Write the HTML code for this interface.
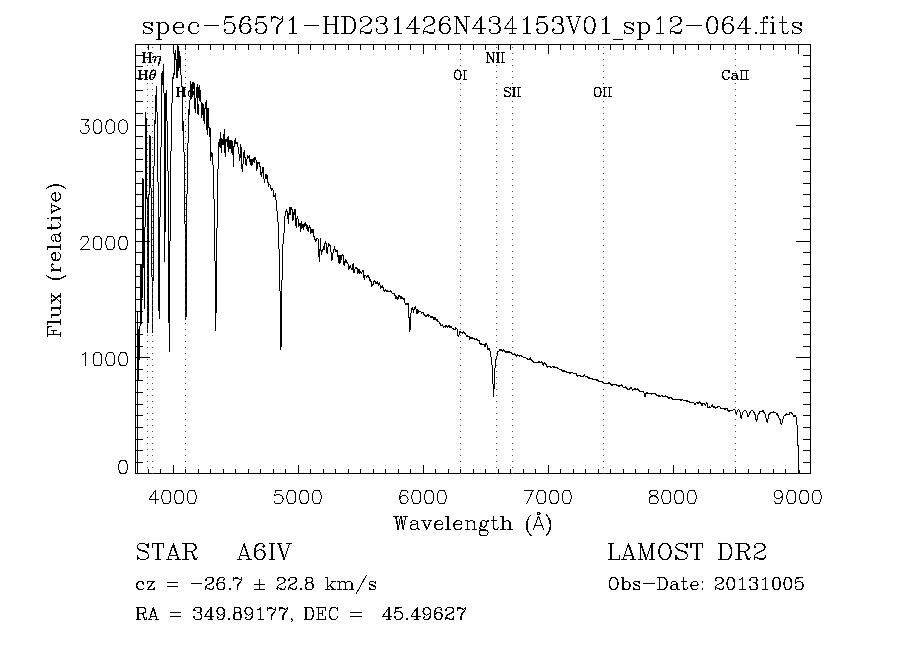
<!DOCTYPE html>
<html lang="en"><head><meta charset="utf-8"><title>spec-56571-HD231426N434153V01_sp12-064.fits</title>
<style>html,body{margin:0;padding:0;background:#fff;font-family:"Liberation Serif",serif}figure{margin:0;position:relative;width:900px;height:650px;overflow:hidden}svg{display:block}figcaption{position:absolute;left:0;top:0;width:1px;height:1px;overflow:hidden;clip:rect(0 0 0 0);clip-path:inset(50%);white-space:nowrap}</style></head>
<body>
<figure>
<svg width="900" height="650" viewBox="0 0 900 650" shape-rendering="crispEdges" fill="none" stroke-width="1" stroke-linecap="butt">
<rect width="900" height="650" fill="#fff" stroke="none"/>
<path id="curve" stroke="#000" d="M137.5 312V474M138.5 329V381M139.5 326V360M140.5 264V326M141.5 264V324M142.5 178V298M143.5 179V268M144.5 227V309M145.5 112V227M146.5 118V199M147.5 198V333M148.5 194V323M149.5 135V195M150.5 136V188M151.5 188V277M152.5 277V333M153.5 166V281M154.5 120V166M155.5 95V124M156.5 86V112M157.5 112V182M158.5 182V311M159.5 217V319M160.5 147V217M161.5 73V147M162.5 71V85M163.5 64V93M164.5 93V262M165.5 93V232M166.5 90V121M167.5 121V171M168.5 171V323M169.5 241V352M170.5 151V241M171.5 103V151M172.5 77V103M173.5 73V79M174.5 53V75M175.5 50V60M176.5 59V78M177.5 44V78M178.5 46V71M179.5 51V68M180.5 56V75M181.5 75V87M182.5 86V131M183.5 121V152M184.5 152V224M185.5 224V320M186.5 194V317M187.5 143V194M188.5 109V143M189.5 100V115M190.5 81V100M191.5 84V99M192.5 82V95M193.5 82V89M193.5 92V94M194.5 83V109M195.5 98V113M196.5 87V98M197.5 84V114M198.5 87V98M198.5 104V115M199.5 85V101M200.5 90V102M201.5 102V118M202.5 103V115M203.5 104V121M204.5 108V124M205.5 102V109M206.5 100V130M207.5 108V135M208.5 108V128M209.5 127V137M210.5 128V161M211.5 152V157M212.5 153V165M213.5 165V199M214.5 199V261M215.5 261V331M216.5 228V313M217.5 169V228M218.5 142V169M219.5 139V147M220.5 132V148M221.5 138V153M222.5 139V145M223.5 134V145M224.5 129V153M225.5 139V157M226.5 139V142M227.5 137V147M228.5 136V152M229.5 140V149M230.5 140V149M231.5 140V153M232.5 141V155M233.5 146V167M234.5 140V147M235.5 138V144M236.5 142V144M237.5 142V147M238.5 147V154M239.5 154V161M240.5 144V158M241.5 147V169M242.5 164V172M243.5 152V164M244.5 150V158M245.5 157V165M246.5 159V166M247.5 155V159M248.5 156V158M249.5 155V162M250.5 159V165M251.5 159V166M252.5 159V165M253.5 158V162M254.5 157V163M255.5 157V160M256.5 160V171M257.5 162V169M258.5 162V164M259.5 162V167M260.5 166V175M261.5 172V177M262.5 167V173M263.5 167V179M264.5 179V183M265.5 174V179M266.5 174V179M267.5 175V183M268.5 182V187M269.5 184V185M270.5 185V189M271.5 188V191M272.5 188V190M273.5 190V197M274.5 195V197M275.5 193V200M276.5 200V211M277.5 211V222M278.5 222V249M279.5 249V291M280.5 291V350M281.5 280V347M282.5 244V280M283.5 233V244M284.5 216V233M285.5 211V216M286.5 209V212M287.5 211V219M288.5 213V224M289.5 207V215M290.5 207V215M291.5 207V210M292.5 209V221M293.5 212V220M294.5 209V215M295.5 209V226M296.5 218V228M297.5 216V219M298.5 219V227M299.5 223V226M300.5 223V232M301.5 221V229M302.5 224V228M303.5 224V230M304.5 223V227M305.5 222V226M306.5 224V229M307.5 225V231M308.5 227V232M309.5 225V228M310.5 227V234M311.5 229V233M312.5 229V233M313.5 229V237M314.5 236V240M315.5 239V242M316.5 238V241M317.5 238V239M318.5 239V257M319.5 249V262M320.5 238V251M321.5 250V255M322.5 249V252M323.5 246V250M324.5 243V250M325.5 241V244M326.5 243V253M327.5 247V254M328.5 243V247M329.5 244V246M330.5 245V252M331.5 252V261M332.5 253V260M333.5 249V253M334.5 246V250M335.5 249V252M336.5 250V252M337.5 250V257M338.5 255V263M339.5 255V264M340.5 255V263M341.5 255V260M342.5 254V256M343.5 255V265M344.5 261V266M345.5 259V263M346.5 260V263M347.5 262V264M348.5 264V270M349.5 266V269M350.5 265V268M351.5 268V270M352.5 264V270M353.5 263V273M354.5 269V273M355.5 267V269M356.5 267V269M357.5 268V274M358.5 269V273M359.5 269V274M360.5 271V273M361.5 272V274M362.5 270V272M363.5 270V278M364.5 275V280M365.5 275V276M366.5 276V278M367.5 275V277M368.5 275V278M369.5 277V281M370.5 279V282M371.5 281V287M372.5 284V286M373.5 281V285M374.5 280V282M375.5 281V284M376.5 282V284M377.5 281V284M378.5 283V286M379.5 282V285M380.5 285V289M381.5 286V288M382.5 285V288M383.5 287V291M384.5 290V292M385.5 289V291M386.5 290V292M387.5 290V292M388.5 291V292M389.5 291V292M390.5 290V292M391.5 291V293M392.5 293V294M393.5 293V294M394.5 293V296M395.5 295V299M396.5 296V299M397.5 297V300M398.5 295V299M399.5 295V297M400.5 296V299M401.5 296V299M402.5 297V299M403.5 298V300M404.5 298V303M405.5 303V305M406.5 303V305M407.5 303V305M408.5 303V318M409.5 317V332M410.5 313V330M411.5 308V313M412.5 307V310M413.5 309V313M414.5 307V310M415.5 306V309M416.5 309V314M417.5 309V314M418.5 310V313M419.5 311V312M420.5 311V312M421.5 312V314M422.5 312V313M423.5 312V315M424.5 314V316M425.5 315V317M426.5 315V317M427.5 314V316M428.5 314V317M429.5 315V316M430.5 316V318M431.5 316V318M432.5 316V318M433.5 317V320M434.5 317V320M435.5 317V320M436.5 319V321M437.5 319V322M438.5 321V322M439.5 322V324M440.5 323V326M441.5 325V326M442.5 324V326M443.5 326V328M444.5 326V327M445.5 325V328M446.5 325V327M447.5 326V328M448.5 325V327M449.5 325V328M450.5 326V328M451.5 326V328M452.5 328V329M453.5 328V330M454.5 329V330M455.5 327V330M456.5 328V329M457.5 329V336M458.5 335V337M459.5 331V335M460.5 331V333M461.5 332V333M462.5 332V334M463.5 331V333M464.5 332V334M465.5 333V335M466.5 335V337M467.5 335V337M468.5 336V337M469.5 336V340M470.5 337V339M471.5 337V339M472.5 337V339M473.5 338V339M474.5 338V340M475.5 339V340M476.5 338V340M477.5 339V341M478.5 340V341M479.5 340V344M480.5 343V345M481.5 343V345M482.5 344V345M483.5 344V345M484.5 344V347M485.5 343V347M486.5 343V345M487.5 345V350M488.5 348V350M489.5 348V351M490.5 351V357M491.5 357V365M492.5 365V384M493.5 384V397M494.5 368V389M495.5 359V368M496.5 356V359M497.5 351V356M498.5 351V352M499.5 349V351M500.5 349V351M501.5 349V351M502.5 350V352M503.5 349V351M504.5 350V352M505.5 351V353M506.5 351V353M507.5 351V353M508.5 351V353M509.5 351V353M510.5 352V353M511.5 352V354M512.5 353V355M513.5 354V355M514.5 353V355M515.5 354V356M516.5 355V357M517.5 354V356M518.5 355V356M519.5 355V357M520.5 355V356M521.5 355V357M522.5 356V357M523.5 357V358M524.5 357V358M525.5 357V358M526.5 358V359M527.5 358V360M528.5 359V360M529.5 358V360M530.5 357V360M531.5 359V361M532.5 360V362M533.5 361V363M534.5 362V363M535.5 362V363M536.5 362V363M537.5 362V363M538.5 361V363M539.5 361V363M540.5 362V363M541.5 361V363M542.5 362V365M543.5 363V366M544.5 362V364M545.5 363V365M546.5 364V367M547.5 366V368M548.5 366V367M549.5 366V367M550.5 366V368M551.5 367V368M552.5 366V367M553.5 366V368M554.5 366V368M555.5 367V368M556.5 367V368M557.5 367V369M558.5 368V369M559.5 369V370M560.5 369V370M561.5 369V371M562.5 370V372M563.5 370V372M564.5 370V372M565.5 371V372M566.5 371V373M567.5 372V373M568.5 372V373M569.5 372V374M570.5 372V374M571.5 372V373M572.5 372V373M573.5 373V374M574.5 373V374M575.5 373V374M576.5 373V376M577.5 375V377M578.5 375V376M579.5 375V376M580.5 375V377M581.5 376V377M582.5 376V377M583.5 375V377M584.5 374V376M585.5 376V377M586.5 376V377M587.5 376V378M588.5 377V379M589.5 377V379M590.5 378V379M591.5 378V379M592.5 378V380M593.5 379V380M594.5 379V380M595.5 379V380M596.5 379V381M597.5 379V381M598.5 380V382M599.5 381V382M600.5 381V382M601.5 381V382M602.5 381V383M603.5 382V384M604.5 383V384M605.5 383V384M606.5 383V384M607.5 383V384M608.5 382V384M609.5 382V384M610.5 383V385M611.5 384V386M612.5 384V386M613.5 384V385M614.5 384V385M615.5 384V385M616.5 384V386M617.5 385V386M618.5 385V387M619.5 385V387M620.5 385V386M621.5 384V386M622.5 385V387M623.5 387V388M624.5 387V388M625.5 386V388M626.5 387V389M627.5 388V390M628.5 389V390M629.5 388V390M630.5 387V389M631.5 387V389M632.5 389V391M633.5 389V390M634.5 388V390M635.5 388V390M636.5 389V390M637.5 388V390M638.5 389V391M639.5 390V392M640.5 391V392M641.5 391V392M642.5 391V392M643.5 391V393M644.5 393V397M645.5 393V397M646.5 392V394M647.5 392V394M648.5 393V394M649.5 393V394M650.5 393V394M651.5 393V395M652.5 393V394M653.5 393V394M654.5 393V394M655.5 393V395M656.5 394V396M657.5 395V396M658.5 395V397M659.5 395V397M660.5 396V397M661.5 395V396M662.5 395V397M663.5 396V397M664.5 396V397M665.5 395V397M666.5 396V397M667.5 396V398M668.5 397V399M669.5 397V399M670.5 397V398M671.5 397V399M672.5 398V400M673.5 399V400M674.5 399V400M675.5 399V400M676.5 399V400M677.5 399V400M678.5 399V400M679.5 399V400M680.5 399V401M681.5 399V401M682.5 399V400M683.5 400V401M684.5 400V401M685.5 400V401M686.5 400V402M687.5 400V402M688.5 401V402M689.5 401V403M690.5 402V403M691.5 402V403M692.5 402V403M693.5 402V403M694.5 403V405M695.5 403V405M696.5 402V403M697.5 402V404M698.5 402V404M699.5 401V403M700.5 402V404M701.5 403V406M702.5 403V406M703.5 403V404M704.5 403V405M705.5 404V406M706.5 402V404M707.5 403V408M708.5 407V408M709.5 406V408M710.5 407V408M711.5 405V407M712.5 404V407M713.5 406V408M714.5 406V408M715.5 407V409M716.5 407V408M717.5 406V408M718.5 406V407M719.5 406V407M720.5 407V409M721.5 408V409M722.5 408V409M723.5 408V409M724.5 408V410M725.5 408V410M726.5 408V409M727.5 408V411M728.5 410V412M729.5 410V412M730.5 410V411M731.5 410V411M732.5 410V411M733.5 409V410M734.5 409V410M735.5 410V414M736.5 412V415M737.5 410V412M738.5 409V410M739.5 410V412M740.5 412V418M741.5 415V419M742.5 412V415M743.5 411V412M744.5 410V411M745.5 410V411M746.5 411V413M747.5 413V417M748.5 415V417M749.5 412V415M750.5 411V413M751.5 410V411M752.5 410V411M753.5 411V413M754.5 412V415M755.5 414V420M756.5 419V422M757.5 415V420M758.5 413V415M759.5 411V414M760.5 411V412M761.5 411V412M762.5 410V412M763.5 410V413M764.5 412V414M765.5 414V418M766.5 418V422M767.5 419V423M768.5 414V419M769.5 413V415M770.5 412V414M771.5 412V413M772.5 412V413M773.5 411V413M774.5 412V413M775.5 412V413M776.5 413V415M777.5 413V416M778.5 415V418M779.5 418V420M780.5 419V424M781.5 423V425M782.5 419V423M783.5 416V419M784.5 415V416M785.5 414V416M786.5 413V415M787.5 414V415M788.5 414V415M789.5 412V415M790.5 412V413M791.5 412V414M792.5 413V415M793.5 415V417M794.5 415V417M795.5 415V417M796.5 417V425M797.5 425V446M798.5 445V474M799.5 470V474"/>
<path id="frame" stroke="#000" d="M135.5 44.5H810.5V473.5H135.5Z"/>
<path id="ticks" stroke="#000" d="M135.5 474v-5M135.5 44v6M148.5 474v-5M148.5 44v6M160.5 474v-5M160.5 44v6M173.5 474v-9M173.5 44v10M185.5 474v-5M185.5 44v6M198.5 474v-5M198.5 44v6M210.5 474v-5M210.5 44v6M223.5 474v-5M223.5 44v6M235.5 474v-5M235.5 44v6M248.5 474v-5M248.5 44v6M260.5 474v-5M260.5 44v6M273.5 474v-5M273.5 44v6M285.5 474v-5M285.5 44v6M298.5 474v-9M298.5 44v10M310.5 474v-5M310.5 44v6M323.5 474v-5M323.5 44v6M335.5 474v-5M335.5 44v6M348.5 474v-5M348.5 44v6M360.5 474v-5M360.5 44v6M373.5 474v-5M373.5 44v6M385.5 474v-5M385.5 44v6M398.5 474v-5M398.5 44v6M410.5 474v-5M410.5 44v6M423.5 474v-9M423.5 44v10M435.5 474v-5M435.5 44v6M448.5 474v-5M448.5 44v6M460.5 474v-5M460.5 44v6M473.5 474v-5M473.5 44v6M485.5 474v-5M485.5 44v6M498.5 474v-5M498.5 44v6M510.5 474v-5M510.5 44v6M523.5 474v-5M523.5 44v6M535.5 474v-5M535.5 44v6M548.5 474v-9M548.5 44v10M560.5 474v-5M560.5 44v6M573.5 474v-5M573.5 44v6M585.5 474v-5M585.5 44v6M598.5 474v-5M598.5 44v6M610.5 474v-5M610.5 44v6M623.5 474v-5M623.5 44v6M635.5 474v-5M635.5 44v6M648.5 474v-5M648.5 44v6M660.5 474v-5M660.5 44v6M673.5 474v-9M673.5 44v10M685.5 474v-5M685.5 44v6M698.5 474v-5M698.5 44v6M710.5 474v-5M710.5 44v6M723.5 474v-5M723.5 44v6M735.5 474v-5M735.5 44v6M748.5 474v-5M748.5 44v6M760.5 474v-5M760.5 44v6M773.5 474v-5M773.5 44v6M785.5 474v-5M785.5 44v6M798.5 474v-9M798.5 44v10M135 473.5h15M811 473.5h-15M135 462.5h8M811 462.5h-8M135 450.5h8M811 450.5h-8M135 439.5h8M811 439.5h-8M135 427.5h8M811 427.5h-8M135 415.5h8M811 415.5h-8M135 404.5h8M811 404.5h-8M135 392.5h8M811 392.5h-8M135 380.5h8M811 380.5h-8M135 369.5h8M811 369.5h-8M135 357.5h15M811 357.5h-15M135 346.5h8M811 346.5h-8M135 334.5h8M811 334.5h-8M135 322.5h8M811 322.5h-8M135 311.5h8M811 311.5h-8M135 299.5h8M811 299.5h-8M135 287.5h8M811 287.5h-8M135 276.5h8M811 276.5h-8M135 264.5h8M811 264.5h-8M135 252.5h8M811 252.5h-8M135 241.5h15M811 241.5h-15M135 229.5h8M811 229.5h-8M135 218.5h8M811 218.5h-8M135 206.5h8M811 206.5h-8M135 194.5h8M811 194.5h-8M135 183.5h8M811 183.5h-8M135 171.5h8M811 171.5h-8M135 159.5h8M811 159.5h-8M135 148.5h8M811 148.5h-8M135 136.5h8M811 136.5h-8M135 125.5h15M811 125.5h-15M135 113.5h8M811 113.5h-8M135 101.5h8M811 101.5h-8M135 90.5h8M811 90.5h-8M135 78.5h8M811 78.5h-8M135 66.5h8M811 66.5h-8M135 55.5h8M811 55.5h-8"/>
<path id="lines" stroke="#b22222" d="M147 47.5h1M147 53.5h1M147 59.5h1M147 65.5h1M147 71.5h1M147 77.5h1M147 83.5h1M147 89.5h1M147 95.5h1M147 101.5h1M147 107.5h1M147 113.5h1M147 119.5h1M147 125.5h1M147 131.5h1M147 137.5h1M147 143.5h1M147 149.5h1M147 155.5h1M147 161.5h1M147 167.5h1M147 173.5h1M147 179.5h1M147 185.5h1M147 191.5h1M147 197.5h1M147 203.5h1M147 209.5h1M147 215.5h1M147 221.5h1M147 227.5h1M147 233.5h1M147 239.5h1M147 245.5h1M147 251.5h1M147 257.5h1M147 263.5h1M147 269.5h1M147 275.5h1M147 281.5h1M147 287.5h1M147 293.5h1M147 299.5h1M147 305.5h1M147 311.5h1M147 317.5h1M147 323.5h1M147 329.5h1M147 335.5h1M147 341.5h1M147 347.5h1M147 353.5h1M147 359.5h1M147 365.5h1M147 371.5h1M147 377.5h1M147 383.5h1M147 389.5h1M147 395.5h1M147 401.5h1M147 407.5h1M147 413.5h1M147 419.5h1M147 425.5h1M147 431.5h1M147 437.5h1M147 443.5h1M147 449.5h1M147 455.5h1M147 461.5h1M147 467.5h1M147 473.5h1M152 47.5h1M152 53.5h1M152 59.5h1M152 65.5h1M152 71.5h1M152 77.5h1M152 83.5h1M152 89.5h1M152 95.5h1M152 101.5h1M152 107.5h1M152 113.5h1M152 119.5h1M152 125.5h1M152 131.5h1M152 137.5h1M152 143.5h1M152 149.5h1M152 155.5h1M152 161.5h1M152 167.5h1M152 173.5h1M152 179.5h1M152 185.5h1M152 191.5h1M152 197.5h1M152 203.5h1M152 209.5h1M152 215.5h1M152 221.5h1M152 227.5h1M152 233.5h1M152 239.5h1M152 245.5h1M152 251.5h1M152 257.5h1M152 263.5h1M152 269.5h1M152 275.5h1M152 281.5h1M152 287.5h1M152 293.5h1M152 299.5h1M152 305.5h1M152 311.5h1M152 317.5h1M152 323.5h1M152 329.5h1M152 335.5h1M152 341.5h1M152 347.5h1M152 353.5h1M152 359.5h1M152 365.5h1M152 371.5h1M152 377.5h1M152 383.5h1M152 389.5h1M152 395.5h1M152 401.5h1M152 407.5h1M152 413.5h1M152 419.5h1M152 425.5h1M152 431.5h1M152 437.5h1M152 443.5h1M152 449.5h1M152 455.5h1M152 461.5h1M152 467.5h1M152 473.5h1M185 47.5h1M185 53.5h1M185 59.5h1M185 65.5h1M185 71.5h1M185 77.5h1M185 83.5h1M185 89.5h1M185 95.5h1M185 101.5h1M185 107.5h1M185 113.5h1M185 119.5h1M185 125.5h1M185 131.5h1M185 137.5h1M185 143.5h1M185 149.5h1M185 155.5h1M185 161.5h1M185 167.5h1M185 173.5h1M185 179.5h1M185 185.5h1M185 191.5h1M185 197.5h1M185 203.5h1M185 209.5h1M185 215.5h1M185 221.5h1M185 227.5h1M185 233.5h1M185 239.5h1M185 245.5h1M185 251.5h1M185 257.5h1M185 263.5h1M185 269.5h1M185 275.5h1M185 281.5h1M185 287.5h1M185 293.5h1M185 299.5h1M185 305.5h1M185 311.5h1M185 317.5h1M185 323.5h1M185 329.5h1M185 335.5h1M185 341.5h1M185 347.5h1M185 353.5h1M185 359.5h1M185 365.5h1M185 371.5h1M185 377.5h1M185 383.5h1M185 389.5h1M185 395.5h1M185 401.5h1M185 407.5h1M185 413.5h1M185 419.5h1M185 425.5h1M185 431.5h1M185 437.5h1M185 443.5h1M185 449.5h1M185 455.5h1M185 461.5h1M185 467.5h1M185 473.5h1M460 47.5h1M460 53.5h1M460 59.5h1M460 65.5h1M460 71.5h1M460 77.5h1M460 83.5h1M460 89.5h1M460 95.5h1M460 101.5h1M460 107.5h1M460 113.5h1M460 119.5h1M460 125.5h1M460 131.5h1M460 137.5h1M460 143.5h1M460 149.5h1M460 155.5h1M460 161.5h1M460 167.5h1M460 173.5h1M460 179.5h1M460 185.5h1M460 191.5h1M460 197.5h1M460 203.5h1M460 209.5h1M460 215.5h1M460 221.5h1M460 227.5h1M460 233.5h1M460 239.5h1M460 245.5h1M460 251.5h1M460 257.5h1M460 263.5h1M460 269.5h1M460 275.5h1M460 281.5h1M460 287.5h1M460 293.5h1M460 299.5h1M460 305.5h1M460 311.5h1M460 317.5h1M460 323.5h1M460 329.5h1M460 335.5h1M460 341.5h1M460 347.5h1M460 353.5h1M460 359.5h1M460 365.5h1M460 371.5h1M460 377.5h1M460 383.5h1M460 389.5h1M460 395.5h1M460 401.5h1M460 407.5h1M460 413.5h1M460 419.5h1M460 425.5h1M460 431.5h1M460 437.5h1M460 443.5h1M460 449.5h1M460 455.5h1M460 461.5h1M460 467.5h1M460 473.5h1M496 47.5h1M496 53.5h1M496 59.5h1M496 65.5h1M496 71.5h1M496 77.5h1M496 83.5h1M496 89.5h1M496 95.5h1M496 101.5h1M496 107.5h1M496 113.5h1M496 119.5h1M496 125.5h1M496 131.5h1M496 137.5h1M496 143.5h1M496 149.5h1M496 155.5h1M496 161.5h1M496 167.5h1M496 173.5h1M496 179.5h1M496 185.5h1M496 191.5h1M496 197.5h1M496 203.5h1M496 209.5h1M496 215.5h1M496 221.5h1M496 227.5h1M496 233.5h1M496 239.5h1M496 245.5h1M496 251.5h1M496 257.5h1M496 263.5h1M496 269.5h1M496 275.5h1M496 281.5h1M496 287.5h1M496 293.5h1M496 299.5h1M496 305.5h1M496 311.5h1M496 317.5h1M496 323.5h1M496 329.5h1M496 335.5h1M496 341.5h1M496 347.5h1M496 353.5h1M496 359.5h1M496 365.5h1M496 371.5h1M496 377.5h1M496 383.5h1M496 389.5h1M496 395.5h1M496 401.5h1M496 407.5h1M496 413.5h1M496 419.5h1M496 425.5h1M496 431.5h1M496 437.5h1M496 443.5h1M496 449.5h1M496 455.5h1M496 461.5h1M496 467.5h1M496 473.5h1M512 47.5h1M512 53.5h1M512 59.5h1M512 65.5h1M512 71.5h1M512 77.5h1M512 83.5h1M512 89.5h1M512 95.5h1M512 101.5h1M512 107.5h1M512 113.5h1M512 119.5h1M512 125.5h1M512 131.5h1M512 137.5h1M512 143.5h1M512 149.5h1M512 155.5h1M512 161.5h1M512 167.5h1M512 173.5h1M512 179.5h1M512 185.5h1M512 191.5h1M512 197.5h1M512 203.5h1M512 209.5h1M512 215.5h1M512 221.5h1M512 227.5h1M512 233.5h1M512 239.5h1M512 245.5h1M512 251.5h1M512 257.5h1M512 263.5h1M512 269.5h1M512 275.5h1M512 281.5h1M512 287.5h1M512 293.5h1M512 299.5h1M512 305.5h1M512 311.5h1M512 317.5h1M512 323.5h1M512 329.5h1M512 335.5h1M512 341.5h1M512 347.5h1M512 353.5h1M512 359.5h1M512 365.5h1M512 371.5h1M512 377.5h1M512 383.5h1M512 389.5h1M512 395.5h1M512 401.5h1M512 407.5h1M512 413.5h1M512 419.5h1M512 425.5h1M512 431.5h1M512 437.5h1M512 443.5h1M512 449.5h1M512 455.5h1M512 461.5h1M512 467.5h1M512 473.5h1M603 47.5h1M603 53.5h1M603 59.5h1M603 65.5h1M603 71.5h1M603 77.5h1M603 83.5h1M603 89.5h1M603 95.5h1M603 101.5h1M603 107.5h1M603 113.5h1M603 119.5h1M603 125.5h1M603 131.5h1M603 137.5h1M603 143.5h1M603 149.5h1M603 155.5h1M603 161.5h1M603 167.5h1M603 173.5h1M603 179.5h1M603 185.5h1M603 191.5h1M603 197.5h1M603 203.5h1M603 209.5h1M603 215.5h1M603 221.5h1M603 227.5h1M603 233.5h1M603 239.5h1M603 245.5h1M603 251.5h1M603 257.5h1M603 263.5h1M603 269.5h1M603 275.5h1M603 281.5h1M603 287.5h1M603 293.5h1M603 299.5h1M603 305.5h1M603 311.5h1M603 317.5h1M603 323.5h1M603 329.5h1M603 335.5h1M603 341.5h1M603 347.5h1M603 353.5h1M603 359.5h1M603 365.5h1M603 371.5h1M603 377.5h1M603 383.5h1M603 389.5h1M603 395.5h1M603 401.5h1M603 407.5h1M603 413.5h1M603 419.5h1M603 425.5h1M603 431.5h1M603 437.5h1M603 443.5h1M603 449.5h1M603 455.5h1M603 461.5h1M603 467.5h1M603 473.5h1M735 47.5h1M735 53.5h1M735 59.5h1M735 65.5h1M735 71.5h1M735 77.5h1M735 83.5h1M735 89.5h1M735 95.5h1M735 101.5h1M735 107.5h1M735 113.5h1M735 119.5h1M735 125.5h1M735 131.5h1M735 137.5h1M735 143.5h1M735 149.5h1M735 155.5h1M735 161.5h1M735 167.5h1M735 173.5h1M735 179.5h1M735 185.5h1M735 191.5h1M735 197.5h1M735 203.5h1M735 209.5h1M735 215.5h1M735 221.5h1M735 227.5h1M735 233.5h1M735 239.5h1M735 245.5h1M735 251.5h1M735 257.5h1M735 263.5h1M735 269.5h1M735 275.5h1M735 281.5h1M735 287.5h1M735 293.5h1M735 299.5h1M735 305.5h1M735 311.5h1M735 317.5h1M735 323.5h1M735 329.5h1M735 335.5h1M735 341.5h1M735 347.5h1M735 353.5h1M735 359.5h1M735 365.5h1M735 371.5h1M735 377.5h1M735 383.5h1M735 389.5h1M735 395.5h1M735 401.5h1M735 407.5h1M735 413.5h1M735 419.5h1M735 425.5h1M735 431.5h1M735 437.5h1M735 443.5h1M735 449.5h1M735 455.5h1M735 461.5h1M735 467.5h1M735 473.5h1"/>
<g id="labels" stroke="#000" stroke-linecap="square" stroke-linejoin="round">
<g role="img" aria-label="4000"><title>4000</title><path d="M155.49 490.15L149.11 499.25L158.67 499.25M155.49 490.15L155.49 503.80M165.69 490.15L163.77 490.80L162.50 492.75L161.86 496.00L161.86 497.95L162.50 501.20L163.77 503.15L165.69 503.80L166.96 503.80L168.88 503.15L170.15 501.20L170.79 497.95L170.79 496.00L170.15 492.75L168.88 490.80L166.96 490.15L165.69 490.15M178.44 490.15L176.52 490.80L175.25 492.75L174.61 496.00L174.61 497.95L175.25 501.20L176.52 503.15L178.44 503.80L179.71 503.80L181.62 503.15L182.90 501.20L183.54 497.95L183.54 496.00L182.90 492.75L181.62 490.80L179.71 490.15L178.44 490.15M191.19 490.15L189.27 490.80L188.00 492.75L187.36 496.00L187.36 497.95L188.00 501.20L189.27 503.15L191.19 503.80L192.46 503.80L194.38 503.15L195.65 501.20L196.29 497.95L196.29 496.00L195.65 492.75L194.38 490.80L192.46 490.15L191.19 490.15"/></g>
<g role="img" aria-label="5000"><title>5000</title><path d="M281.76 490.15L275.39 490.15L274.75 496.00L275.39 495.35L277.30 494.70L279.21 494.70L281.12 495.35L282.40 496.65L283.04 498.60L283.04 499.90L282.40 501.85L281.12 503.15L279.21 503.80L277.30 503.80L275.39 503.15L274.75 502.50L274.11 501.20M290.69 490.15L288.77 490.80L287.50 492.75L286.86 496.00L286.86 497.95L287.50 501.20L288.77 503.15L290.69 503.80L291.96 503.80L293.88 503.15L295.15 501.20L295.79 497.95L295.79 496.00L295.15 492.75L293.88 490.80L291.96 490.15L290.69 490.15M303.44 490.15L301.52 490.80L300.25 492.75L299.61 496.00L299.61 497.95L300.25 501.20L301.52 503.15L303.44 503.80L304.71 503.80L306.62 503.15L307.90 501.20L308.54 497.95L308.54 496.00L307.90 492.75L306.62 490.80L304.71 490.15L303.44 490.15M316.19 490.15L314.27 490.80L313.00 492.75L312.36 496.00L312.36 497.95L313.00 501.20L314.27 503.15L316.19 503.80L317.46 503.80L319.38 503.15L320.65 501.20L321.29 497.95L321.29 496.00L320.65 492.75L319.38 490.80L317.46 490.15L316.19 490.15"/></g>
<g role="img" aria-label="6000"><title>6000</title><path d="M407.40 492.10L406.76 490.80L404.85 490.15L403.57 490.15L401.66 490.80L400.39 492.75L399.75 496.00L399.75 499.25L400.39 501.85L401.66 503.15L403.57 503.80L404.21 503.80L406.12 503.15L407.40 501.85L408.04 499.90L408.04 499.25L407.40 497.30L406.12 496.00L404.21 495.35L403.57 495.35L401.66 496.00L400.39 497.30L399.75 499.25M415.69 490.15L413.77 490.80L412.50 492.75L411.86 496.00L411.86 497.95L412.50 501.20L413.77 503.15L415.69 503.80L416.96 503.80L418.88 503.15L420.15 501.20L420.79 497.95L420.79 496.00L420.15 492.75L418.88 490.80L416.96 490.15L415.69 490.15M428.44 490.15L426.52 490.80L425.25 492.75L424.61 496.00L424.61 497.95L425.25 501.20L426.52 503.15L428.44 503.80L429.71 503.80L431.62 503.15L432.90 501.20L433.54 497.95L433.54 496.00L432.90 492.75L431.62 490.80L429.71 490.15L428.44 490.15M441.19 490.15L439.27 490.80L438.00 492.75L437.36 496.00L437.36 497.95L438.00 501.20L439.27 503.15L441.19 503.80L442.46 503.80L444.38 503.15L445.65 501.20L446.29 497.95L446.29 496.00L445.65 492.75L444.38 490.80L442.46 490.15L441.19 490.15"/></g>
<g role="img" aria-label="7000"><title>7000</title><path d="M533.04 490.15L526.66 503.80M524.11 490.15L533.04 490.15M540.69 490.15L538.78 490.80L537.50 492.75L536.86 496.00L536.86 497.95L537.50 501.20L538.78 503.15L540.69 503.80L541.96 503.80L543.88 503.15L545.15 501.20L545.79 497.95L545.79 496.00L545.15 492.75L543.88 490.80L541.96 490.15L540.69 490.15M553.44 490.15L551.53 490.80L550.25 492.75L549.61 496.00L549.61 497.95L550.25 501.20L551.53 503.15L553.44 503.80L554.71 503.80L556.62 503.15L557.90 501.20L558.54 497.95L558.54 496.00L557.90 492.75L556.62 490.80L554.71 490.15L553.44 490.15M566.19 490.15L564.28 490.80L563.00 492.75L562.36 496.00L562.36 497.95L563.00 501.20L564.28 503.15L566.19 503.80L567.46 503.80L569.38 503.15L570.65 501.20L571.29 497.95L571.29 496.00L570.65 492.75L569.38 490.80L567.46 490.15L566.19 490.15"/></g>
<g role="img" aria-label="8000"><title>8000</title><path d="M652.30 490.15L650.39 490.80L649.75 492.10L649.75 493.40L650.39 494.70L651.66 495.35L654.21 496.00L656.12 496.65L657.40 497.95L658.04 499.25L658.04 501.20L657.40 502.50L656.76 503.15L654.85 503.80L652.30 503.80L650.39 503.15L649.75 502.50L649.11 501.20L649.11 499.25L649.75 497.95L651.03 496.65L652.94 496.00L655.49 495.35L656.76 494.70L657.40 493.40L657.40 492.10L656.76 490.80L654.85 490.15L652.30 490.15M665.69 490.15L663.78 490.80L662.50 492.75L661.86 496.00L661.86 497.95L662.50 501.20L663.78 503.15L665.69 503.80L666.96 503.80L668.88 503.15L670.15 501.20L670.79 497.95L670.79 496.00L670.15 492.75L668.88 490.80L666.96 490.15L665.69 490.15M678.44 490.15L676.53 490.80L675.25 492.75L674.61 496.00L674.61 497.95L675.25 501.20L676.53 503.15L678.44 503.80L679.71 503.80L681.62 503.15L682.90 501.20L683.54 497.95L683.54 496.00L682.90 492.75L681.62 490.80L679.71 490.15L678.44 490.15M691.19 490.15L689.28 490.80L688.00 492.75L687.36 496.00L687.36 497.95L688.00 501.20L689.28 503.15L691.19 503.80L692.46 503.80L694.38 503.15L695.65 501.20L696.29 497.95L696.29 496.00L695.65 492.75L694.38 490.80L692.46 490.15L691.19 490.15"/></g>
<g role="img" aria-label="9000"><title>9000</title><path d="M782.40 494.70L781.76 496.65L780.49 497.95L778.58 498.60L777.94 498.60L776.03 497.95L774.75 496.65L774.11 494.70L774.11 494.05L774.75 492.10L776.03 490.80L777.94 490.15L778.58 490.15L780.49 490.80L781.76 492.10L782.40 494.70L782.40 497.95L781.76 501.20L780.49 503.15L778.58 503.80L777.30 503.80L775.39 503.15L774.75 501.85M790.69 490.15L788.78 490.80L787.50 492.75L786.86 496.00L786.86 497.95L787.50 501.20L788.78 503.15L790.69 503.80L791.96 503.80L793.88 503.15L795.15 501.20L795.79 497.95L795.79 496.00L795.15 492.75L793.88 490.80L791.96 490.15L790.69 490.15M803.44 490.15L801.53 490.80L800.25 492.75L799.61 496.00L799.61 497.95L800.25 501.20L801.53 503.15L803.44 503.80L804.71 503.80L806.62 503.15L807.90 501.20L808.54 497.95L808.54 496.00L807.90 492.75L806.62 490.80L804.71 490.15L803.44 490.15M816.19 490.15L814.28 490.80L813.00 492.75L812.36 496.00L812.36 497.95L813.00 501.20L814.28 503.15L816.19 503.80L817.46 503.80L819.38 503.15L820.65 501.20L821.29 497.95L821.29 496.00L820.65 492.75L819.38 490.80L817.46 490.15L816.19 490.15"/></g>
<g role="img" aria-label="0"><title>0</title><path d="M122.39 460.25L120.48 460.90L119.20 462.85L118.56 466.10L118.56 468.05L119.20 471.30L120.48 473.25L122.39 473.90L123.66 473.90L125.58 473.25L126.85 471.30L127.49 468.05L127.49 466.10L126.85 462.85L125.58 460.90L123.66 460.25L122.39 460.25"/></g>
<g role="img" aria-label="1000"><title>1000</title><path d="M82.23 354.93L83.50 354.28L85.41 352.33L85.41 365.98M96.89 352.33L94.98 352.98L93.70 354.93L93.06 358.18L93.06 360.13L93.70 363.38L94.98 365.33L96.89 365.98L98.16 365.98L100.08 365.33L101.35 363.38L101.99 360.13L101.99 358.18L101.35 354.93L100.08 352.98L98.16 352.33L96.89 352.33M109.64 352.33L107.73 352.98L106.45 354.93L105.81 358.18L105.81 360.13L106.45 363.38L107.73 365.33L109.64 365.98L110.91 365.98L112.83 365.33L114.10 363.38L114.74 360.13L114.74 358.18L114.10 354.93L112.83 352.98L110.91 352.33L109.64 352.33M122.39 352.33L120.47 352.98L119.20 354.93L118.56 358.18L118.56 360.13L119.20 363.38L120.47 365.33L122.39 365.98L123.66 365.98L125.58 365.33L126.85 363.38L127.49 360.13L127.49 358.18L126.85 354.93L125.58 352.98L123.66 352.33L122.39 352.33"/></g>
<g role="img" aria-label="2000"><title>2000</title><path d="M80.95 239.52L80.95 238.87L81.59 237.57L82.23 236.92L83.50 236.27L86.05 236.27L87.33 236.92L87.96 237.57L88.60 238.87L88.60 240.17L87.96 241.47L86.69 243.42L80.31 249.92L89.24 249.92M96.89 236.27L94.98 236.92L93.70 238.87L93.06 242.12L93.06 244.07L93.70 247.32L94.98 249.27L96.89 249.92L98.16 249.92L100.08 249.27L101.35 247.32L101.99 244.07L101.99 242.12L101.35 238.87L100.08 236.92L98.16 236.27L96.89 236.27M109.64 236.27L107.73 236.92L106.45 238.87L105.81 242.12L105.81 244.07L106.45 247.32L107.73 249.27L109.64 249.92L110.91 249.92L112.83 249.27L114.10 247.32L114.74 244.07L114.74 242.12L114.10 238.87L112.83 236.92L110.91 236.27L109.64 236.27M122.39 236.27L120.47 236.92L119.20 238.87L118.56 242.12L118.56 244.07L119.20 247.32L120.47 249.27L122.39 249.92L123.66 249.92L125.58 249.27L126.85 247.32L127.49 244.07L127.49 242.12L126.85 238.87L125.58 236.92L123.66 236.27L122.39 236.27"/></g>
<g role="img" aria-label="3000"><title>3000</title><path d="M81.59 119.80L88.60 119.80L84.78 125.00L86.69 125.00L87.96 125.65L88.60 126.30L89.24 128.25L89.24 129.55L88.60 131.50L87.33 132.80L85.41 133.45L83.50 133.45L81.59 132.80L80.95 132.15L80.31 130.85M96.89 119.80L94.98 120.45L93.70 122.40L93.06 125.65L93.06 127.60L93.70 130.85L94.98 132.80L96.89 133.45L98.16 133.45L100.08 132.80L101.35 130.85L101.99 127.60L101.99 125.65L101.35 122.40L100.08 120.45L98.16 119.80L96.89 119.80M109.64 119.80L107.73 120.45L106.45 122.40L105.81 125.65L105.81 127.60L106.45 130.85L107.73 132.80L109.64 133.45L110.91 133.45L112.83 132.80L114.10 130.85L114.74 127.60L114.74 125.65L114.10 122.40L112.83 120.45L110.91 119.80L109.64 119.80M122.39 119.80L120.47 120.45L119.20 122.40L118.56 125.65L118.56 127.60L119.20 130.85L120.47 132.80L122.39 133.45L123.66 133.45L125.58 132.80L126.85 130.85L127.49 127.60L127.49 125.65L126.85 122.40L125.58 120.45L123.66 119.80L122.39 119.80"/></g>
<g role="img" aria-label="spec-56571-HD231426N434153V01_sp12-064.fits"><title>spec-56571-HD231426N434153V01_sp12-064.fits</title><path d="M151.32 23.98L152.11 22.36L152.11 25.60L151.32 23.98L150.52 23.17L148.94 22.36L145.78 22.36L144.20 23.17L143.40 23.98L143.40 25.60L144.20 26.41L145.78 27.22L149.73 28.84L151.32 29.65L152.11 30.46M143.40 24.79L144.20 25.60L145.78 26.41L149.73 28.03L151.32 28.84L152.11 29.65L152.11 32.08L151.32 32.89L149.73 33.70L146.57 33.70L144.99 32.89L144.20 32.08L143.40 30.46L143.40 33.70L144.20 32.08M158.44 22.36L158.44 39.37M159.23 22.36L159.23 39.37M159.23 24.79L160.81 23.17L162.39 22.36L163.97 22.36L166.35 23.17L167.93 24.79L168.72 27.22L168.72 28.84L167.93 31.27L166.35 32.89L163.97 33.70L162.39 33.70L160.81 32.89L159.23 31.27M163.97 22.36L165.56 23.17L167.14 24.79L167.93 27.22L167.93 28.84L167.14 31.27L165.56 32.89L163.97 33.70M156.06 22.36L159.23 22.36M156.06 39.37L161.60 39.37M174.26 27.22L183.75 27.22L183.75 25.60L182.96 23.98L182.17 23.17L180.59 22.36L178.22 22.36L175.84 23.17L174.26 24.79L173.47 27.22L173.47 28.84L174.26 31.27L175.84 32.89L178.22 33.70L179.80 33.70L182.17 32.89L183.75 31.27M182.96 27.22L182.96 24.79L182.17 23.17M178.22 22.36L176.63 23.17L175.05 24.79L174.26 27.22L174.26 28.84L175.05 31.27L176.63 32.89L178.22 33.70M198.00 24.79L197.20 25.60L198.00 26.41L198.79 25.60L198.79 24.79L197.20 23.17L195.62 22.36L193.25 22.36L190.87 23.17L189.29 24.79L188.50 27.22L188.50 28.84L189.29 31.27L190.87 32.89L193.25 33.70L194.83 33.70L197.20 32.89L198.79 31.27M193.25 22.36L191.67 23.17L190.08 24.79L189.29 27.22L189.29 28.84L190.08 31.27L191.67 32.89L193.25 33.70M204.32 25.36L218.57 25.36M225.69 16.69L224.10 24.79M224.10 24.79L225.69 23.17L228.06 22.36L230.43 22.36L232.81 23.17L234.39 24.79L235.18 27.22L235.18 28.84L234.39 31.27L232.81 32.89L230.43 33.70L228.06 33.70L225.69 32.89L224.89 32.08L224.10 30.46L224.10 29.65L224.89 28.84L225.69 29.65L224.89 30.46M230.43 22.36L232.02 23.17L233.60 24.79L234.39 27.22L234.39 28.84L233.60 31.27L232.02 32.89L230.43 33.70M225.69 16.69L233.60 16.69M225.69 17.50L229.64 17.50L233.60 16.69M249.42 19.12L248.63 19.93L249.42 20.74L250.21 19.93L250.21 19.12L249.42 17.50L247.84 16.69L245.47 16.69L243.09 17.50L241.51 19.12L240.72 20.74L239.93 23.98L239.93 28.84L240.72 31.27L242.30 32.89L244.67 33.70L246.26 33.70L248.63 32.89L250.21 31.27L251.00 28.84L251.00 28.03L250.21 25.60L248.63 23.98L246.26 23.17L245.47 23.17L243.09 23.98L241.51 25.60L240.72 28.03M245.47 16.69L243.88 17.50L242.30 19.12L241.51 20.74L240.72 23.98L240.72 28.84L241.51 31.27L243.09 32.89L244.67 33.70M246.26 33.70L247.84 32.89L249.42 31.27L250.21 28.84L250.21 28.03L249.42 25.60L247.84 23.98L246.26 23.17M257.33 16.69L255.75 24.79M255.75 24.79L257.33 23.17L259.71 22.36L262.08 22.36L264.45 23.17L266.04 24.79L266.83 27.22L266.83 28.84L266.04 31.27L264.45 32.89L262.08 33.70L259.71 33.70L257.33 32.89L256.54 32.08L255.75 30.46L255.75 29.65L256.54 28.84L257.33 29.65L256.54 30.46M262.08 22.36L263.66 23.17L265.24 24.79L266.04 27.22L266.04 28.84L265.24 31.27L263.66 32.89L262.08 33.70M257.33 16.69L265.24 16.69M257.33 17.50L261.29 17.50L265.24 16.69M271.57 16.69L271.57 21.55M271.57 19.93L272.37 18.31L273.95 16.69L275.53 16.69L279.49 19.12L281.07 19.12L281.86 18.31L282.65 16.69M272.37 18.31L273.95 17.50L275.53 17.50L279.49 19.12M282.65 16.69L282.65 19.12L281.86 21.55L278.69 25.60L277.90 27.22L277.11 29.65L277.11 33.70M281.86 21.55L277.90 25.60L277.11 27.22L276.32 29.65L276.32 33.70M289.77 19.93L291.35 19.12L293.73 16.69L293.73 33.70M292.94 17.50L292.94 33.70M289.77 33.70L296.89 33.70M304.01 25.36L318.25 25.36M325.37 16.69L325.37 33.70M326.16 16.69L326.16 33.70M335.66 16.69L335.66 33.70M336.45 16.69L336.45 33.70M323.00 16.69L328.54 16.69M333.29 16.69L338.82 16.69M326.16 24.79L335.66 24.79M323.00 33.70L328.54 33.70M333.29 33.70L338.82 33.70M344.36 16.69L344.36 33.70M345.15 16.69L345.15 33.70M341.99 16.69L349.90 16.69L352.27 17.50L353.86 19.12L354.65 20.74L355.44 23.17L355.44 27.22L354.65 29.65L353.86 31.27L352.27 32.89L349.90 33.70L341.99 33.70M349.90 16.69L351.48 17.50L353.06 19.12L353.86 20.74L354.65 23.17L354.65 27.22L353.86 29.65L353.06 31.27L351.48 32.89L349.90 33.70M360.98 19.93L361.77 20.74L360.98 21.55L360.19 20.74L360.19 19.93L360.98 18.31L361.77 17.50L364.14 16.69L367.31 16.69L369.68 17.50L370.47 18.31L371.26 19.93L371.26 21.55L370.47 23.17L368.10 24.79L364.14 26.41L362.56 27.22L360.98 28.84L360.19 31.27L360.19 33.70M367.31 16.69L368.89 17.50L369.68 18.31L370.47 19.93L370.47 21.55L369.68 23.17L367.31 24.79L364.14 26.41M360.19 32.08L360.98 31.27L362.56 31.27L366.51 32.89L368.89 32.89L370.47 32.08L371.26 31.27M362.56 31.27L366.51 33.70L369.68 33.70L370.47 32.89L371.26 31.27L371.26 29.65M376.80 19.93L377.59 20.74L376.80 21.55L376.01 20.74L376.01 19.93L376.80 18.31L377.59 17.50L379.96 16.69L383.13 16.69L385.50 17.50L386.29 19.12L386.29 21.55L385.50 23.17L383.13 23.98L380.76 23.98M383.13 16.69L384.71 17.50L385.50 19.12L385.50 21.55L384.71 23.17L383.13 23.98M383.13 23.98L384.71 24.79L386.29 26.41L387.08 28.03L387.08 30.46L386.29 32.08L385.50 32.89L383.13 33.70L379.96 33.70L377.59 32.89L376.80 32.08L376.01 30.46L376.01 29.65L376.80 28.84L377.59 29.65L376.80 30.46M385.50 25.60L386.29 28.03L386.29 30.46L385.50 32.08L384.71 32.89L383.13 33.70M394.21 19.93L395.79 19.12L398.16 16.69L398.16 33.70M397.37 17.50L397.37 33.70M394.21 33.70L401.33 33.70M414.78 18.31L414.78 33.70M415.57 16.69L415.57 33.70M415.57 16.69L406.86 28.84L419.52 28.84M412.40 33.70L417.94 33.70M424.27 19.93L425.06 20.74L424.27 21.55L423.48 20.74L423.48 19.93L424.27 18.31L425.06 17.50L427.43 16.69L430.60 16.69L432.97 17.50L433.76 18.31L434.56 19.93L434.56 21.55L433.76 23.17L431.39 24.79L427.43 26.41L425.85 27.22L424.27 28.84L423.48 31.27L423.48 33.70M430.60 16.69L432.18 17.50L432.97 18.31L433.76 19.93L433.76 21.55L432.97 23.17L430.60 24.79L427.43 26.41M423.48 32.08L424.27 31.27L425.85 31.27L429.81 32.89L432.18 32.89L433.76 32.08L434.56 31.27M425.85 31.27L429.81 33.70L432.97 33.70L433.76 32.89L434.56 31.27L434.56 29.65M448.80 19.12L448.01 19.93L448.80 20.74L449.59 19.93L449.59 19.12L448.80 17.50L447.21 16.69L444.84 16.69L442.47 17.50L440.88 19.12L440.09 20.74L439.30 23.98L439.30 28.84L440.09 31.27L441.68 32.89L444.05 33.70L445.63 33.70L448.01 32.89L449.59 31.27L450.38 28.84L450.38 28.03L449.59 25.60L448.01 23.98L445.63 23.17L444.84 23.17L442.47 23.98L440.88 25.60L440.09 28.03M444.84 16.69L443.26 17.50L441.68 19.12L440.88 20.74L440.09 23.98L440.09 28.84L440.88 31.27L442.47 32.89L444.05 33.70M445.63 33.70L447.21 32.89L448.80 31.27L449.59 28.84L449.59 28.03L448.80 25.60L447.21 23.98L445.63 23.17M456.71 16.69L456.71 33.70M457.50 16.69L466.99 32.08M457.50 18.31L466.99 33.70M466.99 16.69L466.99 33.70M454.33 16.69L457.50 16.69M464.62 16.69L469.37 16.69M454.33 33.70L459.08 33.70M480.44 18.31L480.44 33.70M481.23 16.69L481.23 33.70M481.23 16.69L472.53 28.84L485.19 28.84M478.07 33.70L483.61 33.70M489.94 19.93L490.73 20.74L489.94 21.55L489.15 20.74L489.15 19.93L489.94 18.31L490.73 17.50L493.10 16.69L496.27 16.69L498.64 17.50L499.43 19.12L499.43 21.55L498.64 23.17L496.27 23.98L493.89 23.98M496.27 16.69L497.85 17.50L498.64 19.12L498.64 21.55L497.85 23.17L496.27 23.98M496.27 23.98L497.85 24.79L499.43 26.41L500.22 28.03L500.22 30.46L499.43 32.08L498.64 32.89L496.27 33.70L493.10 33.70L490.73 32.89L489.94 32.08L489.15 30.46L489.15 29.65L489.94 28.84L490.73 29.65L489.94 30.46M498.64 25.60L499.43 28.03L499.43 30.46L498.64 32.08L497.85 32.89L496.27 33.70M512.09 18.31L512.09 33.70M512.88 16.69L512.88 33.70M512.88 16.69L504.18 28.84L516.84 28.84M509.72 33.70L515.25 33.70M523.17 19.93L524.75 19.12L527.12 16.69L527.12 33.70M526.33 17.50L526.33 33.70M523.17 33.70L530.29 33.70M538.20 16.69L536.62 24.79M536.62 24.79L538.20 23.17L540.57 22.36L542.95 22.36L545.32 23.17L546.90 24.79L547.69 27.22L547.69 28.84L546.90 31.27L545.32 32.89L542.95 33.70L540.57 33.70L538.20 32.89L537.41 32.08L536.62 30.46L536.62 29.65L537.41 28.84L538.20 29.65L537.41 30.46M542.95 22.36L544.53 23.17L546.11 24.79L546.90 27.22L546.90 28.84L546.11 31.27L544.53 32.89L542.95 33.70M538.20 16.69L546.11 16.69M538.20 17.50L542.15 17.50L546.11 16.69M553.23 19.93L554.02 20.74L553.23 21.55L552.44 20.74L552.44 19.93L553.23 18.31L554.02 17.50L556.40 16.69L559.56 16.69L561.93 17.50L562.72 19.12L562.72 21.55L561.93 23.17L559.56 23.98L557.19 23.98M559.56 16.69L561.14 17.50L561.93 19.12L561.93 21.55L561.14 23.17L559.56 23.98M559.56 23.98L561.14 24.79L562.72 26.41L563.52 28.03L563.52 30.46L562.72 32.08L561.93 32.89L559.56 33.70L556.40 33.70L554.02 32.89L553.23 32.08L552.44 30.46L552.44 29.65L553.23 28.84L554.02 29.65L553.23 30.46M561.93 25.60L562.72 28.03L562.72 30.46L561.93 32.08L561.14 32.89L559.56 33.70M568.26 16.69L573.80 33.70M569.05 16.69L573.80 31.27M579.34 16.69L573.80 33.70M566.68 16.69L571.43 16.69M576.17 16.69L580.92 16.69M588.83 16.69L586.46 17.50L584.88 19.93L584.09 23.98L584.09 26.41L584.88 30.46L586.46 32.89L588.83 33.70L590.42 33.70L592.79 32.89L594.37 30.46L595.16 26.41L595.16 23.98L594.37 19.93L592.79 17.50L590.42 16.69L588.83 16.69M588.83 16.69L587.25 17.50L586.46 18.31L585.67 19.93L584.88 23.98L584.88 26.41L585.67 30.46L586.46 32.08L587.25 32.89L588.83 33.70M590.42 33.70L592.00 32.89L592.79 32.08L593.58 30.46L594.37 26.41L594.37 23.98L593.58 19.93L592.79 18.31L592.00 17.50L590.42 16.69M602.28 19.93L603.87 19.12L606.24 16.69L606.24 33.70M605.45 17.50L605.45 33.70M602.28 33.70L609.40 33.70M613.04 39.37L622.22 39.37M632.35 23.98L633.14 22.36L633.14 25.60L632.35 23.98L631.56 23.17L629.97 22.36L626.81 22.36L625.23 23.17L624.44 23.98L624.44 25.60L625.23 26.41L626.81 27.22L630.77 28.84L632.35 29.65L633.14 30.46M624.44 24.79L625.23 25.60L626.81 26.41L630.77 28.03L632.35 28.84L633.14 29.65L633.14 32.08L632.35 32.89L630.77 33.70L627.60 33.70L626.02 32.89L625.23 32.08L624.44 30.46L624.44 33.70L625.23 32.08M639.47 22.36L639.47 39.37M640.26 22.36L640.26 39.37M640.26 24.79L641.84 23.17L643.42 22.36L645.01 22.36L647.38 23.17L648.96 24.79L649.75 27.22L649.75 28.84L648.96 31.27L647.38 32.89L645.01 33.70L643.42 33.70L641.84 32.89L640.26 31.27M645.01 22.36L646.59 23.17L648.17 24.79L648.96 27.22L648.96 28.84L648.17 31.27L646.59 32.89L645.01 33.70M637.09 22.36L640.26 22.36M637.09 39.37L642.63 39.37M656.87 19.93L658.46 19.12L660.83 16.69L660.83 33.70M660.04 17.50L660.04 33.70M656.87 33.70L663.99 33.70M671.12 19.93L671.91 20.74L671.12 21.55L670.32 20.74L670.32 19.93L671.12 18.31L671.91 17.50L674.28 16.69L677.44 16.69L679.82 17.50L680.61 18.31L681.40 19.93L681.40 21.55L680.61 23.17L678.24 24.79L674.28 26.41L672.70 27.22L671.12 28.84L670.32 31.27L670.32 33.70M677.44 16.69L679.03 17.50L679.82 18.31L680.61 19.93L680.61 21.55L679.82 23.17L677.44 24.79L674.28 26.41M670.32 32.08L671.12 31.27L672.70 31.27L676.65 32.89L679.03 32.89L680.61 32.08L681.40 31.27M672.70 31.27L676.65 33.70L679.82 33.70L680.61 32.89L681.40 31.27L681.40 29.65M686.94 25.36L701.18 25.36M711.46 16.69L709.09 17.50L707.51 19.93L706.72 23.98L706.72 26.41L707.51 30.46L709.09 32.89L711.46 33.70L713.05 33.70L715.42 32.89L717.00 30.46L717.79 26.41L717.79 23.98L717.00 19.93L715.42 17.50L713.05 16.69L711.46 16.69M711.46 16.69L709.88 17.50L709.09 18.31L708.30 19.93L707.51 23.98L707.51 26.41L708.30 30.46L709.09 32.08L709.88 32.89L711.46 33.70M713.05 33.70L714.63 32.89L715.42 32.08L716.21 30.46L717.00 26.41L717.00 23.98L716.21 19.93L715.42 18.31L714.63 17.50L713.05 16.69M732.04 19.12L731.24 19.93L732.04 20.74L732.83 19.93L732.83 19.12L732.04 17.50L730.45 16.69L728.08 16.69L725.71 17.50L724.12 19.12L723.33 20.74L722.54 23.98L722.54 28.84L723.33 31.27L724.91 32.89L727.29 33.70L728.87 33.70L731.24 32.89L732.83 31.27L733.62 28.84L733.62 28.03L732.83 25.60L731.24 23.98L728.87 23.17L728.08 23.17L725.71 23.98L724.12 25.60L723.33 28.03M728.08 16.69L726.50 17.50L724.91 19.12L724.12 20.74L723.33 23.98L723.33 28.84L724.12 31.27L725.71 32.89L727.29 33.70M728.87 33.70L730.45 32.89L732.04 31.27L732.83 28.84L732.83 28.03L732.04 25.60L730.45 23.98L728.87 23.17M745.49 18.31L745.49 33.70M746.28 16.69L746.28 33.70M746.28 16.69L737.57 28.84L750.23 28.84M743.11 33.70L748.65 33.70M755.50 32.50L756.50 32.50M755.50 33.50L756.50 33.50M767.08 17.50L766.29 18.31L767.08 19.12L767.88 18.31L767.88 17.50L767.08 16.69L765.50 16.69L763.92 17.50L763.13 19.12L763.13 33.70M765.50 16.69L764.71 17.50L763.92 19.12L763.92 33.70M760.75 22.36L767.08 22.36M760.75 33.70L766.29 33.70M772.62 16.69L771.83 17.50L772.62 18.31L773.41 17.50L772.62 16.69M772.62 22.36L772.62 33.70M773.41 22.36L773.41 33.70M770.25 22.36L773.41 22.36M770.25 33.70L775.79 33.70M782.12 16.69L782.12 30.46L782.91 32.89L784.49 33.70L786.07 33.70L787.65 32.89L788.45 31.27M782.91 16.69L782.91 30.46L783.70 32.89L784.49 33.70M779.74 22.36L786.07 22.36M800.31 23.98L801.10 22.36L801.10 25.60L800.31 23.98L799.52 23.17L797.94 22.36L794.78 22.36L793.19 23.17L792.40 23.98L792.40 25.60L793.19 26.41L794.78 27.22L798.73 28.84L800.31 29.65L801.10 30.46M792.40 24.79L793.19 25.60L794.78 26.41L798.73 28.03L800.31 28.84L801.10 29.65L801.10 32.08L800.31 32.89L798.73 33.70L795.57 33.70L793.98 32.89L793.19 32.08L792.40 30.46L792.40 33.70L793.19 32.08"/></g>
<g role="img" aria-label="Wavelength (Å)"><title>Wavelength (Å)</title><path d="M395.50 516.16L398.05 529.70M396.14 516.16L398.05 526.48M400.61 516.16L398.05 529.70M400.61 516.16L403.16 529.70M401.24 516.16L403.16 526.48M405.71 516.16L403.16 529.70M393.58 516.16L398.05 516.16M403.80 516.16L407.63 516.16M411.46 521.96L411.46 522.61L410.82 522.61L410.82 521.96L411.46 521.32L412.74 520.67L415.29 520.67L416.57 521.32L417.21 521.96L417.85 523.25L417.85 527.77L418.49 529.06L419.13 529.70M417.21 521.96L417.21 527.77L417.85 529.06L419.13 529.70L419.76 529.70M417.21 523.25L416.57 523.90L412.74 524.54L410.82 525.19L410.18 526.48L410.18 527.77L410.82 529.06L412.74 529.70L414.66 529.70L415.93 529.06L417.21 527.77M412.74 524.54L411.46 525.19L410.82 526.48L410.82 527.77L411.46 529.06L412.74 529.70M422.96 520.67L426.79 529.70M423.60 520.67L426.79 528.41M430.62 520.67L426.79 529.70M421.68 520.67L425.51 520.67M428.07 520.67L431.90 520.67M435.09 524.54L442.75 524.54L442.75 523.25L442.12 521.96L441.48 521.32L440.20 520.67L438.28 520.67L436.37 521.32L435.09 522.61L434.45 524.54L434.45 525.83L435.09 527.77L436.37 529.06L438.28 529.70L439.56 529.70L441.48 529.06L442.75 527.77M442.12 524.54L442.12 522.61L441.48 521.32M438.28 520.67L437.01 521.32L435.73 522.61L435.09 524.54L435.09 525.83L435.73 527.77L437.01 529.06L438.28 529.70M447.86 516.16L447.86 529.70M448.50 516.16L448.50 529.70M445.95 516.16L448.50 516.16M445.95 529.70L450.42 529.70M454.25 524.54L461.91 524.54L461.91 523.25L461.27 521.96L460.64 521.32L459.36 520.67L457.44 520.67L455.53 521.32L454.25 522.61L453.61 524.54L453.61 525.83L454.25 527.77L455.53 529.06L457.44 529.70L458.72 529.70L460.64 529.06L461.91 527.77M461.27 524.54L461.27 522.61L460.64 521.32M457.44 520.67L456.17 521.32L454.89 522.61L454.25 524.54L454.25 525.83L454.89 527.77L456.17 529.06L457.44 529.70M467.02 520.67L467.02 529.70M467.66 520.67L467.66 529.70M467.66 522.61L468.94 521.32L470.85 520.67L472.13 520.67L474.05 521.32L474.69 522.61L474.69 529.70M472.13 520.67L473.41 521.32L474.05 522.61L474.05 529.70M465.11 520.67L467.66 520.67M465.11 529.70L469.58 529.70M472.13 529.70L476.60 529.70M482.99 520.67L481.71 521.32L481.07 521.96L480.43 523.25L480.43 524.54L481.07 525.83L481.71 526.48L482.99 527.12L484.26 527.12L485.54 526.48L486.18 525.83L486.82 524.54L486.82 523.25L486.18 521.96L485.54 521.32L484.26 520.67L482.99 520.67M481.71 521.32L481.07 522.61L481.07 525.19L481.71 526.48M485.54 526.48L486.18 525.19L486.18 522.61L485.54 521.32M486.18 521.96L486.82 521.32L488.10 520.67L488.10 521.32L486.82 521.32M481.07 525.83L480.43 526.48L479.79 527.77L479.79 528.41L480.43 529.70L482.35 530.54L485.54 530.54L487.46 531.38L488.10 532.22M479.79 528.41L480.43 529.06L482.35 529.70L485.54 529.70L487.46 530.54L488.10 532.22L488.10 533.05L487.46 534.73L485.54 535.57L481.71 535.57L479.79 534.73L479.16 533.05L479.16 532.22L479.79 530.54L481.71 529.70M493.21 516.16L493.21 527.12L493.84 529.06L495.12 529.70L496.40 529.70L497.68 529.06L498.31 527.77M493.84 516.16L493.84 527.12L494.48 529.06L495.12 529.70M491.29 520.67L496.40 520.67M502.78 516.16L502.78 529.70M503.42 516.16L503.42 529.70M503.42 522.61L504.70 521.32L506.62 520.67L507.89 520.67L509.81 521.32L510.45 522.61L510.45 529.70M507.89 520.67L509.17 521.32L509.81 522.61L509.81 529.70M500.87 516.16L503.42 516.16M500.87 529.70L505.34 529.70M507.89 529.70L512.36 529.70M530.88 514.87L529.61 516.16L528.33 518.09L527.05 520.67L526.41 523.90L526.41 526.48L527.05 529.70L528.33 532.28L529.61 534.22L530.88 535.50M529.61 516.16L528.33 518.74L527.69 520.67L527.05 523.90L527.05 526.48L527.69 529.70L528.33 531.63L529.61 534.22M538.55 516.16L533.44 529.70M538.55 516.16L543.66 529.70M535.35 525.19L541.74 525.19M540.08 513.38L539.63 514.20L538.55 514.54L537.46 514.20L537.01 513.38L537.46 512.56L538.55 512.22L539.63 512.56L540.08 513.38M546.21 514.87L547.49 516.16L548.76 518.09L550.04 520.67L550.68 523.90L550.68 526.48L550.04 529.70L548.76 532.28L547.49 534.22L546.21 535.50M547.49 516.16L548.76 518.74L549.40 520.67L550.04 523.90L550.04 526.48L549.40 529.70L548.76 531.63L547.49 534.22"/></g>
<g role="img" aria-label="Flux (relative)"><title>Flux (relative)</title><path d="M47.38 334.73L60.50 334.73M47.38 334.10L60.50 334.10M51.12 330.34L56.12 330.34M47.38 336.61L47.38 326.57L51.12 326.57L47.38 327.20M53.62 334.10L53.62 330.34M60.50 336.61L60.50 332.22M47.38 322.18L60.50 322.18M47.38 321.55L60.50 321.55M47.38 324.06L47.38 321.55M60.50 324.06L60.50 319.67M51.75 315.27L58.62 315.27L59.88 314.64L60.50 312.76L60.50 311.51L59.88 309.62L58.62 308.37M51.75 314.64L58.62 314.64L59.88 314.02L60.50 312.76M51.75 308.37L60.50 308.37M51.75 307.74L60.50 307.74M51.75 317.16L51.75 314.64M51.75 310.25L51.75 307.74M60.50 308.37L60.50 305.86M51.75 302.09L60.50 295.19M51.75 301.46L60.50 294.56M51.75 294.56L60.50 302.09M51.75 303.35L51.75 299.58M51.75 297.07L51.75 293.30M60.50 303.35L60.50 299.58M60.50 297.07L60.50 293.30M46.12 275.10L47.38 276.36L49.25 277.61L51.75 278.87L54.88 279.49L57.38 279.49L60.50 278.87L63.00 277.61L64.88 276.36L66.12 275.10M47.38 276.36L49.88 277.61L51.75 278.24L54.88 278.87L57.38 278.87L60.50 278.24L62.38 277.61L64.88 276.36M51.75 270.08L60.50 270.08M51.75 269.45L60.50 269.45M55.50 269.45L53.62 268.82L52.38 267.57L51.75 266.31L51.75 264.43L52.38 263.80L53.00 263.80L53.62 264.43L53.00 265.06L52.38 264.43M51.75 271.96L51.75 269.45M60.50 271.96L60.50 267.57M55.50 260.04L55.50 252.50L54.25 252.50L53.00 253.13L52.38 253.76L51.75 255.01L51.75 256.90L52.38 258.78L53.62 260.04L55.50 260.66L56.75 260.66L58.62 260.04L59.88 258.78L60.50 256.90L60.50 255.64L59.88 253.76L58.62 252.50M55.50 253.13L53.62 253.13L52.38 253.76M51.75 256.90L52.38 258.15L53.62 259.41L55.50 260.04L56.75 260.04L58.62 259.41L59.88 258.15L60.50 256.90M47.38 247.48L60.50 247.48M47.38 246.85L60.50 246.85M47.38 249.37L47.38 246.85M60.50 249.37L60.50 244.97M53.00 240.58L53.62 240.58L53.62 241.21L53.00 241.21L52.38 240.58L51.75 239.32L51.75 236.81L52.38 235.56L53.00 234.93L54.25 234.30L58.62 234.30L59.88 233.67L60.50 233.05M53.00 234.93L58.62 234.93L59.88 234.30L60.50 233.05L60.50 232.42M54.25 234.93L54.88 235.56L55.50 239.32L56.12 241.21L57.38 241.83L58.62 241.83L59.88 241.21L60.50 239.32L60.50 237.44L59.88 236.18L58.62 234.93M55.50 239.32L56.12 240.58L57.38 241.21L58.62 241.21L59.88 240.58L60.50 239.32M47.38 228.02L58.00 228.02L59.88 227.40L60.50 226.14L60.50 224.89L59.88 223.63L58.62 223.00M47.38 227.40L58.00 227.40L59.88 226.77L60.50 226.14M51.75 229.91L51.75 224.89M47.38 218.61L48.00 219.24L48.62 218.61L48.00 217.98L47.38 218.61M51.75 218.61L60.50 218.61M51.75 217.98L60.50 217.98M51.75 220.49L51.75 217.98M60.50 220.49L60.50 216.10M51.75 212.33L60.50 208.57M51.75 211.70L59.25 208.57M51.75 204.80L60.50 208.57M51.75 213.59L51.75 209.82M51.75 207.31L51.75 203.54M55.50 200.41L55.50 192.87L54.25 192.87L53.00 193.50L52.38 194.13L51.75 195.38L51.75 197.27L52.38 199.15L53.62 200.41L55.50 201.03L56.75 201.03L58.62 200.41L59.88 199.15L60.50 197.27L60.50 196.01L59.88 194.13L58.62 192.87M55.50 193.50L53.62 193.50L52.38 194.13M51.75 197.27L52.38 198.52L53.62 199.78L55.50 200.41L56.75 200.41L58.62 199.78L59.88 198.52L60.50 197.27M46.12 189.11L47.38 187.85L49.25 186.60L51.75 185.34L54.88 184.71L57.38 184.71L60.50 185.34L63.00 186.60L64.88 187.85L66.12 189.11M47.38 187.85L49.88 186.60L51.75 185.97L54.88 185.34L57.38 185.34L60.50 185.97L62.38 186.60L64.88 187.85"/></g>
<g role="img" aria-label="STAR    A6IV"><title>STAR    A6IV</title><path d="M147.37 545.75L148.16 543.43L148.16 548.08L147.37 545.75L145.79 544.20L143.42 543.43L141.05 543.43L138.68 544.20L137.11 545.75L137.11 547.30L137.89 548.85L138.68 549.62L140.26 550.40L145.00 551.95L146.58 552.73L148.16 554.28M137.11 547.30L138.68 548.85L140.26 549.62L145.00 551.18L146.58 551.95L147.37 552.73L148.16 554.28L148.16 557.38L146.58 558.93L144.21 559.70L141.84 559.70L139.47 558.93L137.89 557.38L137.11 555.05L137.11 559.70L137.89 557.38M157.63 543.43L157.63 559.70M158.42 543.43L158.42 559.70M152.89 543.43L152.11 548.08L152.11 543.43L163.95 543.43L163.95 548.08L163.16 543.43M155.26 559.70L160.79 559.70M173.42 543.43L167.89 559.70M173.42 543.43L178.95 559.70M173.42 545.75L178.16 559.70M169.47 555.05L176.58 555.05M166.32 559.70L171.05 559.70M175.79 559.70L180.53 559.70M185.26 543.43L185.26 559.70M186.05 543.43L186.05 559.70M182.89 543.43L192.37 543.43L194.74 544.20L195.53 544.98L196.32 546.53L196.32 548.08L195.53 549.62L194.74 550.40L192.37 551.18L186.05 551.18M192.37 543.43L193.95 544.20L194.74 544.98L195.53 546.53L195.53 548.08L194.74 549.62L193.95 550.40L192.37 551.18M182.89 559.70L188.42 559.70M190.00 551.18L191.58 551.95L192.37 552.73L194.74 558.15L195.53 558.93L196.32 558.93L197.11 558.15M191.58 551.95L192.37 553.50L193.95 558.93L194.74 559.70L196.32 559.70L197.11 558.15L197.11 557.38"/></g>
<g role="img" aria-label="A6IV"><title>A6IV</title><path d="M244.15 543.43L238.67 559.70M244.15 543.43L249.63 559.70M244.15 545.75L248.85 559.70M240.24 555.05L247.28 555.05M237.11 559.70L241.80 559.70M246.50 559.70L251.20 559.70M263.72 545.75L262.93 546.53L263.72 547.30L264.50 546.53L264.50 545.75L263.72 544.20L262.15 543.43L259.80 543.43L257.46 544.20L255.89 545.75L255.11 547.30L254.33 550.40L254.33 555.05L255.11 557.38L256.67 558.93L259.02 559.70L260.59 559.70L262.93 558.93L264.50 557.38L265.28 555.05L265.28 554.28L264.50 551.95L262.93 550.40L260.59 549.62L259.80 549.62L257.46 550.40L255.89 551.95L255.11 554.28M259.80 543.43L258.24 544.20L256.67 545.75L255.89 547.30L255.11 550.40L255.11 555.05L255.89 557.38L257.46 558.93L259.02 559.70M260.59 559.70L262.15 558.93L263.72 557.38L264.50 555.05L264.50 554.28L263.72 551.95L262.15 550.40L260.59 549.62M271.54 543.43L271.54 559.70M272.33 543.43L272.33 559.70M269.20 543.43L274.67 543.43M269.20 559.70L274.67 559.70M278.59 543.43L284.07 559.70M279.37 543.43L284.07 557.38M289.54 543.43L284.07 559.70M277.02 543.43L281.72 543.43M286.41 543.43L291.11 543.43"/></g>
<g role="img" aria-label="LAMOST DR2"><title>LAMOST DR2</title><path d="M610.47 543.43L610.47 559.70M611.26 543.43L611.26 559.70M608.11 543.43L613.63 543.43M608.11 559.70L619.94 559.70L619.94 555.05L619.15 559.70M628.62 543.43L623.10 559.70M628.62 543.43L634.14 559.70M628.62 545.75L633.35 559.70M624.67 555.05L631.77 555.05M621.52 559.70L626.25 559.70M630.98 559.70L635.72 559.70M640.45 543.43L640.45 559.70M641.24 543.43L645.97 557.38M640.45 543.43L645.97 559.70M651.50 543.43L645.97 559.70M651.50 543.43L651.50 559.70M652.29 543.43L652.29 559.70M638.09 543.43L641.24 543.43M651.50 543.43L654.65 543.43M638.09 559.70L642.82 559.70M649.13 559.70L654.65 559.70M664.12 543.43L661.75 544.20L660.18 545.75L659.39 547.30L658.60 550.40L658.60 552.73L659.39 555.83L660.18 557.38L661.75 558.93L664.12 559.70L665.70 559.70L668.07 558.93L669.64 557.38L670.43 555.83L671.22 552.73L671.22 550.40L670.43 547.30L669.64 545.75L668.07 544.20L665.70 543.43L664.12 543.43M664.12 543.43L662.54 544.20L660.96 545.75L660.18 547.30L659.39 550.40L659.39 552.73L660.18 555.83L660.96 557.38L662.54 558.93L664.12 559.70M665.70 559.70L667.28 558.93L668.85 557.38L669.64 555.83L670.43 552.73L670.43 550.40L669.64 547.30L668.85 545.75L667.28 544.20L665.70 543.43M686.21 545.75L687.00 543.43L687.00 548.08L686.21 545.75L684.63 544.20L682.27 543.43L679.90 543.43L677.53 544.20L675.95 545.75L675.95 547.30L676.74 548.85L677.53 549.62L679.11 550.40L683.84 551.95L685.42 552.73L687.00 554.28M675.95 547.30L677.53 548.85L679.11 549.62L683.84 551.18L685.42 551.95L686.21 552.73L687.00 554.28L687.00 557.38L685.42 558.93L683.06 559.70L680.69 559.70L678.32 558.93L676.74 557.38L675.95 555.05L675.95 559.70L676.74 557.38M696.47 543.43L696.47 559.70M697.26 543.43L697.26 559.70M691.73 543.43L690.94 548.08L690.94 543.43L702.78 543.43L702.78 548.08L701.99 543.43M694.10 559.70L699.62 559.70M720.92 543.43L720.92 559.70M721.71 543.43L721.71 559.70M718.56 543.43L726.45 543.43L728.81 544.20L730.39 545.75L731.18 547.30L731.97 549.62L731.97 553.50L731.18 555.83L730.39 557.38L728.81 558.93L726.45 559.70L718.56 559.70M726.45 543.43L728.03 544.20L729.60 545.75L730.39 547.30L731.18 549.62L731.18 553.50L730.39 555.83L729.60 557.38L728.03 558.93L726.45 559.70M738.28 543.43L738.28 559.70M739.07 543.43L739.07 559.70M735.91 543.43L745.38 543.43L747.75 544.20L748.54 544.98L749.33 546.53L749.33 548.08L748.54 549.62L747.75 550.40L745.38 551.18L739.07 551.18M745.38 543.43L746.96 544.20L747.75 544.98L748.54 546.53L748.54 548.08L747.75 549.62L746.96 550.40L745.38 551.18M735.91 559.70L741.44 559.70M743.02 551.18L744.59 551.95L745.38 552.73L747.75 558.15L748.54 558.93L749.33 558.93L750.12 558.15M744.59 551.95L745.38 553.50L746.96 558.93L747.75 559.70L749.33 559.70L750.12 558.15L750.12 557.38M754.85 546.53L755.64 547.30L754.85 548.08L754.06 547.30L754.06 546.53L754.85 544.98L755.64 544.20L758.01 543.43L761.16 543.43L763.53 544.20L764.32 544.98L765.11 546.53L765.11 548.08L764.32 549.62L761.95 551.18L758.01 552.73L756.43 553.50L754.85 555.05L754.06 557.38L754.06 559.70M761.16 543.43L762.74 544.20L763.53 544.98L764.32 546.53L764.32 548.08L763.53 549.62L761.16 551.18L758.01 552.73M754.06 558.15L754.85 557.38L756.43 557.38L760.37 558.93L762.74 558.93L764.32 558.15L765.11 557.38M756.43 557.38L760.37 559.70L763.53 559.70L764.32 558.93L765.11 557.38L765.11 555.83"/></g>
<g role="img" aria-label="cz = -26.7 ± 22.8 km/s"><title>cz = -26.7 ± 22.8 km/s</title><path d="M143.27 583.27L142.70 583.85L143.27 584.44L143.84 583.85L143.84 583.27L142.70 582.10L141.56 581.51L139.84 581.51L138.13 582.10L136.99 583.27L136.41 585.02L136.41 586.19L136.99 587.95L138.13 589.12L139.84 589.70L140.99 589.70L142.70 589.12L143.84 587.95M139.84 581.51L138.70 582.10L137.56 583.27L136.99 585.02L136.99 586.19L137.56 587.95L138.70 589.12L139.84 589.70M153.56 581.51L147.27 589.70M154.13 581.51L147.84 589.70M147.84 581.51L147.27 583.85L147.27 581.51L154.13 581.51M147.27 589.70L154.13 589.70L154.13 587.36L153.56 589.70M167.27 582.68L177.56 582.68M167.27 586.19L177.56 586.19M191.27 583.67L201.56 583.67M206.13 579.75L206.70 580.34L206.13 580.93L205.56 580.34L205.56 579.75L206.13 578.59L206.70 578.00L208.41 577.42L210.70 577.42L212.41 578.00L212.99 578.59L213.56 579.75L213.56 580.93L212.99 582.10L211.27 583.27L208.41 584.44L207.27 585.02L206.13 586.19L205.56 587.95L205.56 589.70M210.70 577.42L211.84 578.00L212.41 578.59L212.99 579.75L212.99 580.93L212.41 582.10L210.70 583.27L208.41 584.44M205.56 588.53L206.13 587.95L207.27 587.95L210.13 589.12L211.84 589.12L212.99 588.53L213.56 587.95M207.27 587.95L210.13 589.70L212.41 589.70L212.99 589.12L213.56 587.95L213.56 586.78M223.84 579.17L223.27 579.75L223.84 580.34L224.41 579.75L224.41 579.17L223.84 578.00L222.70 577.42L220.99 577.42L219.27 578.00L218.13 579.17L217.56 580.34L216.99 582.68L216.99 586.19L217.56 587.95L218.70 589.12L220.41 589.70L221.56 589.70L223.27 589.12L224.41 587.95L224.99 586.19L224.99 585.61L224.41 583.85L223.27 582.68L221.56 582.10L220.99 582.10L219.27 582.68L218.13 583.85L217.56 585.61M220.99 577.42L219.84 578.00L218.70 579.17L218.13 580.34L217.56 582.68L217.56 586.19L218.13 587.95L219.27 589.12L220.41 589.70M221.56 589.70L222.70 589.12L223.84 587.95L224.41 586.19L224.41 585.61L223.84 583.85L222.70 582.68L221.56 582.10M229.50 588.50L230.50 588.50M229.50 589.50L230.50 589.50M233.73 577.42L233.73 580.93M233.73 579.75L234.30 578.59L235.44 577.42L236.59 577.42L239.44 579.17L240.59 579.17L241.16 578.59L241.73 577.42M234.30 578.59L235.44 578.00L236.59 578.00L239.44 579.17M241.73 577.42L241.73 579.17L241.16 580.93L238.87 583.85L238.30 585.02L237.73 586.78L237.73 589.70M241.16 580.93L238.30 583.85L237.73 585.02L237.16 586.78L237.16 589.70M259.44 579.75L259.44 589.70M254.87 584.44L264.01 584.44M254.87 589.70L264.01 589.70M277.73 579.75L278.30 580.34L277.73 580.93L277.16 580.34L277.16 579.75L277.73 578.59L278.30 578.00L280.01 577.42L282.30 577.42L284.01 578.00L284.59 578.59L285.16 579.75L285.16 580.93L284.59 582.10L282.87 583.27L280.01 584.44L278.87 585.02L277.73 586.19L277.16 587.95L277.16 589.70M282.30 577.42L283.44 578.00L284.01 578.59L284.59 579.75L284.59 580.93L284.01 582.10L282.30 583.27L280.01 584.44M277.16 588.53L277.73 587.95L278.87 587.95L281.73 589.12L283.44 589.12L284.59 588.53L285.16 587.95M278.87 587.95L281.73 589.70L284.01 589.70L284.59 589.12L285.16 587.95L285.16 586.78M289.16 579.75L289.73 580.34L289.16 580.93L288.59 580.34L288.59 579.75L289.16 578.59L289.73 578.00L291.44 577.42L293.73 577.42L295.44 578.00L296.01 578.59L296.59 579.75L296.59 580.93L296.01 582.10L294.30 583.27L291.44 584.44L290.30 585.02L289.16 586.19L288.59 587.95L288.59 589.70M293.73 577.42L294.87 578.00L295.44 578.59L296.01 579.75L296.01 580.93L295.44 582.10L293.73 583.27L291.44 584.44M288.59 588.53L289.16 587.95L290.30 587.95L293.16 589.12L294.87 589.12L296.01 588.53L296.59 587.95M290.30 587.95L293.16 589.70L295.44 589.70L296.01 589.12L296.59 587.95L296.59 586.78M300.50 588.50L301.50 588.50M300.50 589.50L301.50 589.50M308.19 577.42L306.47 578.00L305.90 579.17L305.90 580.93L306.47 582.10L308.19 582.68L310.47 582.68L312.19 582.10L312.76 580.93L312.76 579.17L312.19 578.00L310.47 577.42L308.19 577.42M308.19 577.42L307.04 578.00L306.47 579.17L306.47 580.93L307.04 582.10L308.19 582.68M310.47 582.68L311.61 582.10L312.19 580.93L312.19 579.17L311.61 578.00L310.47 577.42M308.19 582.68L306.47 583.27L305.90 583.85L305.33 585.02L305.33 587.36L305.90 588.53L306.47 589.12L308.19 589.70L310.47 589.70L312.19 589.12L312.76 588.53L313.33 587.36L313.33 585.02L312.76 583.85L312.19 583.27L310.47 582.68M308.19 582.68L307.04 583.27L306.47 583.85L305.90 585.02L305.90 587.36L306.47 588.53L307.04 589.12L308.19 589.70M310.47 589.70L311.61 589.12L312.19 588.53L312.76 587.36L312.76 585.02L312.19 583.85L311.61 583.27L310.47 582.68M327.04 577.42L327.04 589.70M327.61 577.42L327.61 589.70M333.33 581.51L327.61 587.36M330.47 585.02L333.90 589.70M329.90 585.02L333.33 589.70M325.33 577.42L327.61 577.42M331.61 581.51L335.04 581.51M325.33 589.70L329.33 589.70M331.61 589.70L335.04 589.70M339.04 581.51L339.04 589.70M339.61 581.51L339.61 589.70M339.61 583.27L340.76 582.10L342.47 581.51L343.61 581.51L345.33 582.10L345.90 583.27L345.90 589.70M343.61 581.51L344.76 582.10L345.33 583.27L345.33 589.70M345.90 583.27L347.04 582.10L348.76 581.51L349.90 581.51L351.61 582.10L352.19 583.27L352.19 589.70M349.90 581.51L351.04 582.10L351.61 583.27L351.61 589.70M337.33 581.51L339.61 581.51M337.33 589.70L341.33 589.70M343.61 589.70L347.61 589.70M349.90 589.70L353.90 589.70M366.47 575.08L356.19 593.80M375.04 582.68L375.61 581.51L375.61 583.85L375.04 582.68L374.47 582.10L373.33 581.51L371.04 581.51L369.90 582.10L369.33 582.68L369.33 583.85L369.90 584.44L371.04 585.02L373.90 586.19L375.04 586.78L375.61 587.36M369.33 583.27L369.90 583.85L371.04 584.44L373.90 585.61L375.04 586.19L375.61 586.78L375.61 588.53L375.04 589.12L373.90 589.70L371.61 589.70L370.47 589.12L369.90 588.53L369.33 587.36L369.33 589.70L369.90 588.53"/></g>
<g role="img" aria-label="Obs-Date: 20131005"><title>Obs-Date: 20131005</title><path d="M613.11 577.42L611.40 578.00L610.26 579.17L609.69 580.34L609.11 582.68L609.11 584.44L609.69 586.78L610.26 587.95L611.40 589.12L613.11 589.70L614.25 589.70L615.96 589.12L617.10 587.95L617.67 586.78L618.24 584.44L618.24 582.68L617.67 580.34L617.10 579.17L615.96 578.00L614.25 577.42L613.11 577.42M613.11 577.42L611.97 578.00L610.83 579.17L610.26 580.34L609.69 582.68L609.69 584.44L610.26 586.78L610.83 587.95L611.97 589.12L613.11 589.70M614.25 589.70L615.39 589.12L616.53 587.95L617.10 586.78L617.67 584.44L617.67 582.68L617.10 580.34L616.53 579.17L615.39 578.00L614.25 577.42M622.80 577.42L622.80 589.70M623.37 577.42L623.37 589.70M623.37 583.27L624.51 582.10L625.65 581.51L626.79 581.51L628.50 582.10L629.64 583.27L630.21 585.02L630.21 586.19L629.64 587.95L628.50 589.12L626.79 589.70L625.65 589.70L624.51 589.12L623.37 587.95M626.79 581.51L627.93 582.10L629.07 583.27L629.64 585.02L629.64 586.19L629.07 587.95L627.93 589.12L626.79 589.70M621.09 577.42L623.37 577.42M639.33 582.68L639.90 581.51L639.90 583.85L639.33 582.68L638.76 582.10L637.62 581.51L635.34 581.51L634.20 582.10L633.63 582.68L633.63 583.85L634.20 584.44L635.34 585.02L638.19 586.19L639.33 586.78L639.90 587.36M633.63 583.27L634.20 583.85L635.34 584.44L638.19 585.61L639.33 586.19L639.90 586.78L639.90 588.53L639.33 589.12L638.19 589.70L635.91 589.70L634.77 589.12L634.20 588.53L633.63 587.36L633.63 589.70L634.20 588.53M643.89 583.67L654.15 583.67M659.28 577.42L659.28 589.70M659.85 577.42L659.85 589.70M657.57 577.42L663.27 577.42L664.98 578.00L666.12 579.17L666.69 580.34L667.26 582.10L667.26 585.02L666.69 586.78L666.12 587.95L664.98 589.12L663.27 589.70L657.57 589.70M663.27 577.42L664.41 578.00L665.55 579.17L666.12 580.34L666.69 582.10L666.69 585.02L666.12 586.78L665.55 587.95L664.41 589.12L663.27 589.70M671.82 582.68L671.82 583.27L671.25 583.27L671.25 582.68L671.82 582.10L672.96 581.51L675.24 581.51L676.38 582.10L676.95 582.68L677.52 583.85L677.52 587.95L678.09 589.12L678.66 589.70M676.95 582.68L676.95 587.95L677.52 589.12L678.66 589.70L679.23 589.70M676.95 583.85L676.38 584.44L672.96 585.02L671.25 585.61L670.68 586.78L670.68 587.95L671.25 589.12L672.96 589.70L674.67 589.70L675.81 589.12L676.95 587.95M672.96 585.02L671.82 585.61L671.25 586.78L671.25 587.95L671.82 589.12L672.96 589.70M683.22 577.42L683.22 587.36L683.79 589.12L684.93 589.70L686.07 589.70L687.21 589.12L687.78 587.95M683.79 577.42L683.79 587.36L684.36 589.12L684.93 589.70M681.51 581.51L686.07 581.51M691.20 585.02L698.04 585.02L698.04 583.85L697.47 582.68L696.90 582.10L695.76 581.51L694.05 581.51L692.34 582.10L691.20 583.27L690.63 585.02L690.63 586.19L691.20 587.95L692.34 589.12L694.05 589.70L695.19 589.70L696.90 589.12L698.04 587.95M697.47 585.02L697.47 583.27L696.90 582.10M694.05 581.51L692.91 582.10L691.77 583.27L691.20 585.02L691.20 586.19L691.77 587.95L692.91 589.12L694.05 589.70M702.60 581.51L702.03 582.10L702.60 582.68L703.17 582.10L702.60 581.51M702.60 588.53L702.03 589.12L702.60 589.70L703.17 589.12L702.60 588.53M716.00 579.75L716.57 580.34L716.00 580.93L715.43 580.34L715.43 579.75L716.00 578.59L716.57 578.00L718.28 577.42L720.56 577.42L722.27 578.00L722.84 578.59L723.41 579.75L723.41 580.93L722.84 582.10L721.13 583.27L718.28 584.44L717.14 585.02L716.00 586.19L715.43 587.95L715.43 589.70M720.56 577.42L721.70 578.00L722.27 578.59L722.84 579.75L722.84 580.93L722.27 582.10L720.56 583.27L718.28 584.44M715.43 588.53L716.00 587.95L717.14 587.95L719.99 589.12L721.70 589.12L722.84 588.53L723.41 587.95M717.14 587.95L719.99 589.70L722.27 589.70L722.84 589.12L723.41 587.95L723.41 586.78M730.25 577.42L728.54 578.00L727.40 579.75L726.83 582.68L726.83 584.44L727.40 587.36L728.54 589.12L730.25 589.70L731.39 589.70L733.10 589.12L734.24 587.36L734.81 584.44L734.81 582.68L734.24 579.75L733.10 578.00L731.39 577.42L730.25 577.42M730.25 577.42L729.11 578.00L728.54 578.59L727.97 579.75L727.40 582.68L727.40 584.44L727.97 587.36L728.54 588.53L729.11 589.12L730.25 589.70M731.39 589.70L732.53 589.12L733.10 588.53L733.67 587.36L734.24 584.44L734.24 582.68L733.67 579.75L733.10 578.59L732.53 578.00L731.39 577.42M739.94 579.75L741.08 579.17L742.79 577.42L742.79 589.70M742.22 578.00L742.22 589.70M739.94 589.70L745.07 589.70M750.20 579.75L750.77 580.34L750.20 580.93L749.63 580.34L749.63 579.75L750.20 578.59L750.77 578.00L752.48 577.42L754.76 577.42L756.47 578.00L757.04 579.17L757.04 580.93L756.47 582.10L754.76 582.68L753.05 582.68M754.76 577.42L755.90 578.00L756.47 579.17L756.47 580.93L755.90 582.10L754.76 582.68M754.76 582.68L755.90 583.27L757.04 584.44L757.61 585.61L757.61 587.36L757.04 588.53L756.47 589.12L754.76 589.70L752.48 589.70L750.77 589.12L750.20 588.53L749.63 587.36L749.63 586.78L750.20 586.19L750.77 586.78L750.20 587.36M756.47 583.85L757.04 585.61L757.04 587.36L756.47 588.53L755.90 589.12L754.76 589.70M762.74 579.75L763.88 579.17L765.59 577.42L765.59 589.70M765.02 578.00L765.02 589.70M762.74 589.70L767.87 589.70M775.85 577.42L774.14 578.00L773.00 579.75L772.43 582.68L772.43 584.44L773.00 587.36L774.14 589.12L775.85 589.70L776.99 589.70L778.70 589.12L779.84 587.36L780.41 584.44L780.41 582.68L779.84 579.75L778.70 578.00L776.99 577.42L775.85 577.42M775.85 577.42L774.71 578.00L774.14 578.59L773.57 579.75L773.00 582.68L773.00 584.44L773.57 587.36L774.14 588.53L774.71 589.12L775.85 589.70M776.99 589.70L778.13 589.12L778.70 588.53L779.27 587.36L779.84 584.44L779.84 582.68L779.27 579.75L778.70 578.59L778.13 578.00L776.99 577.42M787.25 577.42L785.54 578.00L784.40 579.75L783.83 582.68L783.83 584.44L784.40 587.36L785.54 589.12L787.25 589.70L788.39 589.70L790.10 589.12L791.24 587.36L791.81 584.44L791.81 582.68L791.24 579.75L790.10 578.00L788.39 577.42L787.25 577.42M787.25 577.42L786.11 578.00L785.54 578.59L784.97 579.75L784.40 582.68L784.40 584.44L784.97 587.36L785.54 588.53L786.11 589.12L787.25 589.70M788.39 589.70L789.53 589.12L790.10 588.53L790.67 587.36L791.24 584.44L791.24 582.68L790.67 579.75L790.10 578.59L789.53 578.00L788.39 577.42M796.37 577.42L795.23 583.27M795.23 583.27L796.37 582.10L798.08 581.51L799.79 581.51L801.50 582.10L802.64 583.27L803.21 585.02L803.21 586.19L802.64 587.95L801.50 589.12L799.79 589.70L798.08 589.70L796.37 589.12L795.80 588.53L795.23 587.36L795.23 586.78L795.80 586.19L796.37 586.78L795.80 587.36M799.79 581.51L800.93 582.10L802.07 583.27L802.64 585.02L802.64 586.19L802.07 587.95L800.93 589.12L799.79 589.70M796.37 577.42L802.07 577.42M796.37 578.00L799.22 578.00L802.07 577.42"/></g>
<g role="img" aria-label="RA = 349.89177, DEC =  45.49627"><title>RA = 349.89177, DEC =  45.49627</title><path d="M137.93 607.42L137.93 619.70M138.50 607.42L138.50 619.70M136.21 607.42L143.07 607.42L144.78 608.00L145.35 608.59L145.92 609.75L145.92 610.93L145.35 612.10L144.78 612.68L143.07 613.27L138.50 613.27M143.07 607.42L144.21 608.00L144.78 608.59L145.35 609.75L145.35 610.93L144.78 612.10L144.21 612.68L143.07 613.27M136.21 619.70L140.21 619.70M141.35 613.27L142.50 613.85L143.07 614.44L144.78 618.53L145.35 619.12L145.92 619.12L146.49 618.53M142.50 613.85L143.07 615.02L144.21 619.12L144.78 619.70L145.92 619.70L146.49 618.53L146.49 617.95M153.35 607.42L149.35 619.70M153.35 607.42L157.34 619.70M153.35 609.17L156.77 619.70M150.49 616.19L155.63 616.19M148.21 619.70L151.63 619.70M155.06 619.70L158.49 619.70M170.48 612.68L180.76 612.68M170.48 616.19L180.76 616.19M194.46 609.75L195.04 610.34L194.46 610.93L193.89 610.34L193.89 609.75L194.46 608.59L195.04 608.00L196.75 607.42L199.03 607.42L200.75 608.00L201.32 609.17L201.32 610.93L200.75 612.10L199.03 612.68L197.32 612.68M199.03 607.42L200.18 608.00L200.75 609.17L200.75 610.93L200.18 612.10L199.03 612.68M199.03 612.68L200.18 613.27L201.32 614.44L201.89 615.61L201.89 617.36L201.32 618.53L200.75 619.12L199.03 619.70L196.75 619.70L195.04 619.12L194.46 618.53L193.89 617.36L193.89 616.78L194.46 616.19L195.04 616.78L194.46 617.36M200.75 613.85L201.32 615.61L201.32 617.36L200.75 618.53L200.18 619.12L199.03 619.70M210.46 608.59L210.46 619.70M211.03 607.42L211.03 619.70M211.03 607.42L204.74 616.19L213.88 616.19M208.74 619.70L212.74 619.70M224.16 611.51L223.59 613.27L222.45 614.44L220.73 615.02L220.16 615.02L218.45 614.44L217.31 613.27L216.74 611.51L216.74 610.93L217.31 609.17L218.45 608.00L220.16 607.42L221.31 607.42L223.02 608.00L224.16 609.17L224.73 610.93L224.73 614.44L224.16 616.78L223.59 617.95L222.45 619.12L220.73 619.70L219.02 619.70L217.88 619.12L217.31 617.95L217.31 617.36L217.88 616.78L218.45 617.36L217.88 617.95M220.16 615.02L219.02 614.44L217.88 613.27L217.31 611.51L217.31 610.93L217.88 609.17L219.02 608.00L220.16 607.42M221.31 607.42L222.45 608.00L223.59 609.17L224.16 610.93L224.16 614.44L223.59 616.78L223.02 617.95L221.88 619.12L220.73 619.70M228.50 618.50L229.50 618.50M228.50 619.50L229.50 619.50M236.33 607.42L234.61 608.00L234.04 609.17L234.04 610.93L234.61 612.10L236.33 612.68L238.61 612.68L240.32 612.10L240.89 610.93L240.89 609.17L240.32 608.00L238.61 607.42L236.33 607.42M236.33 607.42L235.18 608.00L234.61 609.17L234.61 610.93L235.18 612.10L236.33 612.68M238.61 612.68L239.75 612.10L240.32 610.93L240.32 609.17L239.75 608.00L238.61 607.42M236.33 612.68L234.61 613.27L234.04 613.85L233.47 615.02L233.47 617.36L234.04 618.53L234.61 619.12L236.33 619.70L238.61 619.70L240.32 619.12L240.89 618.53L241.46 617.36L241.46 615.02L240.89 613.85L240.32 613.27L238.61 612.68M236.33 612.68L235.18 613.27L234.61 613.85L234.04 615.02L234.04 617.36L234.61 618.53L235.18 619.12L236.33 619.70M238.61 619.70L239.75 619.12L240.32 618.53L240.89 617.36L240.89 615.02L240.32 613.85L239.75 613.27L238.61 612.68M252.32 611.51L251.74 613.27L250.60 614.44L248.89 615.02L248.32 615.02L246.60 614.44L245.46 613.27L244.89 611.51L244.89 610.93L245.46 609.17L246.60 608.00L248.32 607.42L249.46 607.42L251.17 608.00L252.32 609.17L252.89 610.93L252.89 614.44L252.32 616.78L251.74 617.95L250.60 619.12L248.89 619.70L247.18 619.70L246.03 619.12L245.46 617.95L245.46 617.36L246.03 616.78L246.60 617.36L246.03 617.95M248.32 615.02L247.18 614.44L246.03 613.27L245.46 611.51L245.46 610.93L246.03 609.17L247.18 608.00L248.32 607.42M249.46 607.42L250.60 608.00L251.74 609.17L252.32 610.93L252.32 614.44L251.74 616.78L251.17 617.95L250.03 619.12L248.89 619.70M258.03 609.75L259.17 609.17L260.88 607.42L260.88 619.70M260.31 608.00L260.31 619.70M258.03 619.70L263.17 619.70M267.73 607.42L267.73 610.93M267.73 609.75L268.31 608.59L269.45 607.42L270.59 607.42L273.45 609.17L274.59 609.17L275.16 608.59L275.73 607.42M268.31 608.59L269.45 608.00L270.59 608.00L273.45 609.17M275.73 607.42L275.73 609.17L275.16 610.93L272.87 613.85L272.30 615.02L271.73 616.78L271.73 619.70M275.16 610.93L272.30 613.85L271.73 615.02L271.16 616.78L271.16 619.70M279.16 607.42L279.16 610.93M279.16 609.75L279.73 608.59L280.87 607.42L282.01 607.42L284.87 609.17L286.01 609.17L286.58 608.59L287.15 607.42M279.73 608.59L280.87 608.00L282.01 608.00L284.87 609.17M287.15 607.42L287.15 609.17L286.58 610.93L284.30 613.85L283.72 615.02L283.15 616.78L283.15 619.70M286.58 610.93L283.72 613.85L283.15 615.02L282.58 616.78L282.58 619.70M291.72 619.70L291.15 619.12L291.72 618.53L292.29 619.12L292.29 620.29L291.72 621.46L291.15 622.04M305.71 607.42L305.71 619.70M306.28 607.42L306.28 619.70M304.00 607.42L309.71 607.42L311.42 608.00L312.56 609.17L313.14 610.34L313.71 612.10L313.71 615.02L313.14 616.78L312.56 617.95L311.42 619.12L309.71 619.70L304.00 619.70M309.71 607.42L310.85 608.00L311.99 609.17L312.56 610.34L313.14 612.10L313.14 615.02L312.56 616.78L311.99 617.95L310.85 619.12L309.71 619.70M318.28 607.42L318.28 619.70M318.85 607.42L318.85 619.70M322.27 610.93L322.27 615.61M316.56 607.42L325.70 607.42L325.70 610.93L325.13 607.42M318.85 613.27L322.27 613.27M316.56 619.70L325.70 619.70L325.70 616.19L325.13 619.70M337.12 609.17L337.69 610.93L337.69 607.42L337.12 609.17L335.98 608.00L334.27 607.42L333.12 607.42L331.41 608.00L330.27 609.17L329.70 610.34L329.13 612.10L329.13 615.02L329.70 616.78L330.27 617.95L331.41 619.12L333.12 619.70L334.27 619.70L335.98 619.12L337.12 617.95L337.69 616.78M333.12 607.42L331.98 608.00L330.84 609.17L330.27 610.34L329.70 612.10L329.70 615.02L330.27 616.78L330.84 617.95L331.98 619.12L333.12 619.70M350.83 612.68L361.11 612.68M350.83 616.19L361.11 616.19M388.52 608.59L388.52 619.70M389.09 607.42L389.09 619.70M389.09 607.42L382.81 616.19L391.94 616.19M386.80 619.70L390.80 619.70M395.94 607.42L394.80 613.27M394.80 613.27L395.94 612.10L397.66 611.51L399.37 611.51L401.08 612.10L402.22 613.27L402.80 615.02L402.80 616.19L402.22 617.95L401.08 619.12L399.37 619.70L397.66 619.70L395.94 619.12L395.37 618.53L394.80 617.36L394.80 616.78L395.37 616.19L395.94 616.78L395.37 617.36M399.37 611.51L400.51 612.10L401.65 613.27L402.22 615.02L402.22 616.19L401.65 617.95L400.51 619.12L399.37 619.70M395.94 607.42L401.65 607.42M395.94 608.00L398.80 608.00L401.65 607.42M406.50 618.50L407.50 618.50M406.50 619.50L407.50 619.50M416.67 608.59L416.67 619.70M417.24 607.42L417.24 619.70M417.24 607.42L410.96 616.19L420.10 616.19M414.96 619.70L418.96 619.70M430.38 611.51L429.81 613.27L428.67 614.44L426.95 615.02L426.38 615.02L424.67 614.44L423.53 613.27L422.95 611.51L422.95 610.93L423.53 609.17L424.67 608.00L426.38 607.42L427.52 607.42L429.24 608.00L430.38 609.17L430.95 610.93L430.95 614.44L430.38 616.78L429.81 617.95L428.67 619.12L426.95 619.70L425.24 619.70L424.10 619.12L423.53 617.95L423.53 617.36L424.10 616.78L424.67 617.36L424.10 617.95M426.38 615.02L425.24 614.44L424.10 613.27L423.53 611.51L423.53 610.93L424.10 609.17L425.24 608.00L426.38 607.42M427.52 607.42L428.67 608.00L429.81 609.17L430.38 610.93L430.38 614.44L429.81 616.78L429.24 617.95L428.09 619.12L426.95 619.70M441.23 609.17L440.66 609.75L441.23 610.34L441.80 609.75L441.80 609.17L441.23 608.00L440.09 607.42L438.37 607.42L436.66 608.00L435.52 609.17L434.95 610.34L434.38 612.68L434.38 616.19L434.95 617.95L436.09 619.12L437.80 619.70L438.94 619.70L440.66 619.12L441.80 617.95L442.37 616.19L442.37 615.61L441.80 613.85L440.66 612.68L438.94 612.10L438.37 612.10L436.66 612.68L435.52 613.85L434.95 615.61M438.37 607.42L437.23 608.00L436.09 609.17L435.52 610.34L434.95 612.68L434.95 616.19L435.52 617.95L436.66 619.12L437.80 619.70M438.94 619.70L440.09 619.12L441.23 617.95L441.80 616.19L441.80 615.61L441.23 613.85L440.09 612.68L438.94 612.10M446.37 609.75L446.94 610.34L446.37 610.93L445.80 610.34L445.80 609.75L446.37 608.59L446.94 608.00L448.65 607.42L450.94 607.42L452.65 608.00L453.22 608.59L453.79 609.75L453.79 610.93L453.22 612.10L451.51 613.27L448.65 614.44L447.51 615.02L446.37 616.19L445.80 617.95L445.80 619.70M450.94 607.42L452.08 608.00L452.65 608.59L453.22 609.75L453.22 610.93L452.65 612.10L450.94 613.27L448.65 614.44M445.80 618.53L446.37 617.95L447.51 617.95L450.37 619.12L452.08 619.12L453.22 618.53L453.79 617.95M447.51 617.95L450.37 619.70L452.65 619.70L453.22 619.12L453.79 617.95L453.79 616.78M457.22 607.42L457.22 610.93M457.22 609.75L457.79 608.59L458.93 607.42L460.07 607.42L462.93 609.17L464.07 609.17L464.64 608.59L465.21 607.42M457.79 608.59L458.93 608.00L460.07 608.00L462.93 609.17M465.21 607.42L465.21 609.17L464.64 610.93L462.36 613.85L461.79 615.02L461.22 616.78L461.22 619.70M464.64 610.93L461.79 613.85L461.22 615.02L460.65 616.78L460.65 619.70"/></g>
<g role="img" aria-label="Hη"><title>Hη</title><path d="M143.82 52.85L143.82 62.30M144.27 52.85L144.27 62.30M149.67 52.85L149.67 62.30M150.12 52.85L150.12 62.30M142.47 52.85L145.62 52.85M148.32 52.85L151.47 52.85M144.27 57.35L149.67 57.35M142.47 62.30L145.62 62.30M148.32 62.30L151.47 62.30M152.82 57.80L153.27 56.90L154.17 56.00L155.52 56.00L155.97 56.45L155.97 57.35L155.52 59.15L154.62 62.30M155.07 56.00L155.52 56.45L155.52 57.35L155.07 59.15L154.17 62.30M155.52 59.15L156.42 57.35L157.32 56.45L158.22 56.00L159.12 56.00L160.02 56.45L160.47 56.90L160.47 58.25L160.02 60.50L158.67 65.45M159.12 56.00L160.02 56.90L160.02 58.25L159.57 60.50L158.22 65.45"/></g>
<g role="img" aria-label="Hθ"><title>Hθ</title><path d="M139.82 70.05L139.82 79.50M140.27 70.05L140.27 79.50M145.63 70.05L145.63 79.50M146.08 70.05L146.08 79.50M138.48 70.05L141.61 70.05M144.29 70.05L147.42 70.05M140.27 74.55L145.63 74.55M138.48 79.50L141.61 79.50M144.29 79.50L147.42 79.50M153.24 70.05L151.90 70.50L151.00 71.85L150.56 72.75L150.11 74.10L149.66 76.35L149.66 78.15L150.11 79.05L151.00 79.50L151.90 79.50L153.24 79.05L154.13 77.70L154.58 76.80L155.03 75.45L155.48 73.20L155.48 71.40L155.03 70.50L154.13 70.05L153.24 70.05M153.24 70.05L152.34 70.50L151.45 71.85L151.00 72.75L150.56 74.10L150.11 76.35L150.11 78.15L150.56 79.05L151.00 79.50M151.90 79.50L152.79 79.05L153.69 77.70L154.13 76.80L154.58 75.45L155.03 73.20L155.03 71.40L154.58 70.50L154.13 70.05M150.56 74.55L154.58 74.55"/></g>
<g role="img" aria-label="Hδ"><title>Hδ</title><path d="M177.86 87.25L177.86 96.70M178.32 87.25L178.32 96.70M183.88 87.25L183.88 96.70M184.34 87.25L184.34 96.70M176.47 87.25L179.71 87.25M182.49 87.25L185.73 87.25M178.32 91.75L183.88 91.75M176.47 96.70L179.71 96.70M182.49 96.70L185.73 96.70M192.68 90.85L191.75 90.40L190.83 90.40L189.44 90.85L188.51 92.20L188.05 93.55L188.05 94.90L188.51 95.80L188.97 96.25L189.90 96.70L190.83 96.70L192.22 96.25L193.14 94.90L193.61 93.55L193.61 92.20L193.14 91.30L191.29 89.05L190.83 88.15L190.83 87.25L191.29 86.80L192.22 86.80L193.14 87.25L194.07 88.15M190.83 90.40L189.90 90.85L188.97 92.20L188.51 93.55L188.51 95.35L188.97 96.25M190.83 96.70L191.75 96.25L192.68 94.90L193.14 93.55L193.14 91.75L192.68 90.85L191.75 89.50L191.29 88.60L191.29 87.70L191.75 87.25L192.68 87.25L194.07 88.15"/></g>
<g role="img" aria-label="OI"><title>OI</title><path d="M457.24 70.05L455.97 70.50L455.13 71.40L454.71 72.30L454.29 74.10L454.29 75.45L454.71 77.25L455.13 78.15L455.97 79.05L457.24 79.50L458.08 79.50L459.35 79.05L460.19 78.15L460.61 77.25L461.03 75.45L461.03 74.10L460.61 72.30L460.19 71.40L459.35 70.50L458.08 70.05L457.24 70.05M457.24 70.05L456.40 70.50L455.55 71.40L455.13 72.30L454.71 74.10L454.71 75.45L455.13 77.25L455.55 78.15L456.40 79.05L457.24 79.50M458.08 79.50L458.92 79.05L459.77 78.15L460.19 77.25L460.61 75.45L460.61 74.10L460.19 72.30L459.77 71.40L458.92 70.50L458.08 70.05M464.40 70.05L464.40 79.50M464.82 70.05L464.82 79.50M463.14 70.05L466.09 70.05M463.14 79.50L466.09 79.50"/></g>
<g role="img" aria-label="NII"><title>NII</title><path d="M487.77 52.85L487.77 62.30M488.20 52.85L493.35 61.40M488.20 53.75L493.35 62.30M493.35 52.85L493.35 62.30M486.49 52.85L488.20 52.85M492.07 52.85L494.64 52.85M486.49 62.30L489.06 62.30M497.65 52.85L497.65 62.30M498.08 52.85L498.08 62.30M496.36 52.85L499.36 52.85M496.36 62.30L499.36 62.30M502.37 52.85L502.37 62.30M502.80 52.85L502.80 62.30M501.08 52.85L504.09 52.85M501.08 62.30L504.09 62.30"/></g>
<g role="img" aria-label="SII"><title>SII</title><path d="M509.84 88.60L510.26 87.25L510.26 89.95L509.84 88.60L508.98 87.70L507.70 87.25L506.42 87.25L505.14 87.70L504.29 88.60L504.29 89.50L504.71 90.40L505.14 90.85L505.99 91.30L508.56 92.20L509.41 92.65L510.26 93.55M504.29 89.50L505.14 90.40L505.99 90.85L508.56 91.75L509.41 92.20L509.84 92.65L510.26 93.55L510.26 95.35L509.41 96.25L508.13 96.70L506.85 96.70L505.57 96.25L504.71 95.35L504.29 94.00L504.29 96.70L504.71 95.35M513.68 87.25L513.68 96.70M514.11 87.25L514.11 96.70M512.40 87.25L515.39 87.25M512.40 96.70L515.39 96.70M518.38 87.25L518.38 96.70M518.81 87.25L518.81 96.70M517.10 87.25L520.09 87.25M517.10 96.70L520.09 96.70"/></g>
<g role="img" aria-label="OII"><title>OII</title><path d="M597.13 87.25L595.83 87.70L594.95 88.60L594.52 89.50L594.08 91.30L594.08 92.65L594.52 94.45L594.95 95.35L595.83 96.25L597.13 96.70L598.01 96.70L599.31 96.25L600.18 95.35L600.62 94.45L601.06 92.65L601.06 91.30L600.62 89.50L600.18 88.60L599.31 87.70L598.01 87.25L597.13 87.25M597.13 87.25L596.26 87.70L595.39 88.60L594.95 89.50L594.52 91.30L594.52 92.65L594.95 94.45L595.39 95.35L596.26 96.25L597.13 96.70M598.01 96.70L598.88 96.25L599.75 95.35L600.18 94.45L600.62 92.65L600.62 91.30L600.18 89.50L599.75 88.60L598.88 87.70L598.01 87.25M604.54 87.25L604.54 96.70M604.98 87.25L604.98 96.70M603.24 87.25L606.29 87.25M603.24 96.70L606.29 96.70M609.34 87.25L609.34 96.70M609.77 87.25L609.77 96.70M608.03 87.25L611.08 87.25M608.03 96.70L611.08 96.70"/></g>
<g role="img" aria-label="CaII"><title>CaII</title><path d="M728.66 71.40L729.10 72.75L729.10 70.05L728.66 71.40L727.78 70.50L726.45 70.05L725.57 70.05L724.24 70.50L723.36 71.40L722.92 72.30L722.48 73.65L722.48 75.90L722.92 77.25L723.36 78.15L724.24 79.05L725.57 79.50L726.45 79.50L727.78 79.05L728.66 78.15L729.10 77.25M725.57 70.05L724.69 70.50L723.80 71.40L723.36 72.30L722.92 73.65L722.92 75.90L723.36 77.25L723.80 78.15L724.69 79.05L725.57 79.50M732.63 74.10L732.63 74.55L732.19 74.55L732.19 74.10L732.63 73.65L733.51 73.20L735.28 73.20L736.16 73.65L736.60 74.10L737.04 75.00L737.04 78.15L737.49 79.05L737.93 79.50M736.60 74.10L736.60 78.15L737.04 79.05L737.93 79.50L738.37 79.50M736.60 75.00L736.16 75.45L733.51 75.90L732.19 76.35L731.75 77.25L731.75 78.15L732.19 79.05L733.51 79.50L734.84 79.50L735.72 79.05L736.60 78.15M733.51 75.90L732.63 76.35L732.19 77.25L732.19 78.15L732.63 79.05L733.51 79.50M741.46 70.05L741.46 79.50M741.90 70.05L741.90 79.50M740.13 70.05L743.22 70.05M740.13 79.50L743.22 79.50M746.31 70.05L746.31 79.50M746.76 70.05L746.76 79.50M744.99 70.05L748.08 70.05M744.99 79.50L748.08 79.50"/></g>
</g>
</svg>
<figcaption><span>spec-56571-HD231426N434153V01_sp12-064.fits</span> <span>Flux (relative)</span> <span>Wavelength (Å)</span> <span>Y axis: 0 1000 2000 3000</span> <span>X axis: 4000 5000 6000 7000 8000 9000</span> <span>Line markers: Hη Hθ Hδ OI NII SII OII CaII</span> <span>STAR   A6IV</span> <span>LAMOST DR2</span> <span>cz = -26.7 ± 22.8 km/s</span> <span>Obs-Date: 20131005</span> <span>RA = 349.89177, DEC =  45.49627</span> </figcaption>
</figure>
</body></html>
